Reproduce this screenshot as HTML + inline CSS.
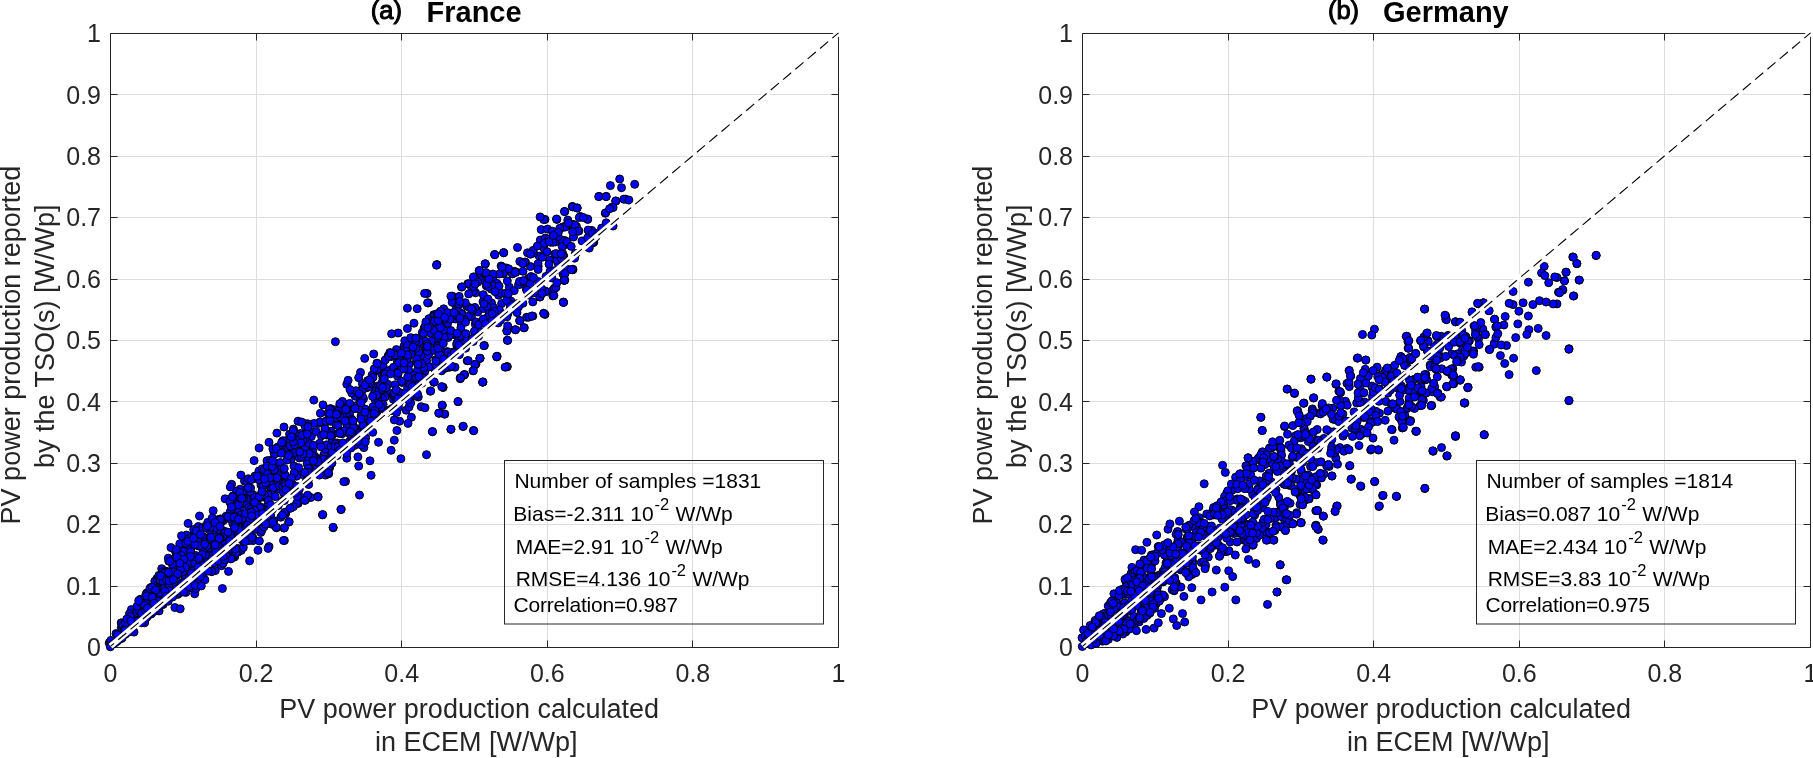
<!DOCTYPE html>
<html><head><meta charset="utf-8"><style>
html,body{margin:0;padding:0;background:#fff;width:1813px;height:758px;overflow:hidden}
svg{display:block;will-change:transform}
.mk circle{fill:#0000ff;stroke:#000;stroke-width:1}
text{font-family:"Liberation Sans",sans-serif;fill:#262626}
.tk{font-size:25px}
.lb{font-size:27px}
.lg{font-size:21px;fill:#000}
.tl1{font-size:25.5px;fill:#000;stroke:#000;stroke-width:1px}
.tl2{font-size:29px;font-weight:bold;fill:#000}
</style></head><body>
<svg width="1813" height="758" viewBox="0 0 1813 758">
<rect width="1813" height="758" fill="#fff"/>
<path d="M256.5 33.5V647.5 M401.5 33.5V647.5 M547.5 33.5V647.5 M692.5 33.5V647.5 M110.5 586.5H838.5 M110.5 524.5H838.5 M110.5 463.5H838.5 M110.5 401.5H838.5 M110.5 340.5H838.5 M110.5 279.5H838.5 M110.5 217.5H838.5 M110.5 156.5H838.5 M110.5 94.5H838.5" stroke="#dedede" stroke-width="1" fill="none"/>
<path d="M110.5 647.5V33.5H838.5V647.5Z M110.5 647.5v-7M110.5 33.5v7 M256.5 647.5v-7M256.5 33.5v7 M401.5 647.5v-7M401.5 33.5v7 M547.5 647.5v-7M547.5 33.5v7 M692.5 647.5v-7M692.5 33.5v7 M838.5 647.5v-7M838.5 33.5v7 M110.5 647.5h7M838.5 647.5h-7 M110.5 586.5h7M838.5 586.5h-7 M110.5 524.5h7M838.5 524.5h-7 M110.5 463.5h7M838.5 463.5h-7 M110.5 401.5h7M838.5 401.5h-7 M110.5 340.5h7M838.5 340.5h-7 M110.5 279.5h7M838.5 279.5h-7 M110.5 217.5h7M838.5 217.5h-7 M110.5 156.5h7M838.5 156.5h-7 M110.5 94.5h7M838.5 94.5h-7 M110.5 33.5h7M838.5 33.5h-7" stroke="#262626" stroke-width="1" fill="none"/>
<g class="mk">
<circle cx="488.9" cy="311.6" r="4"/>
<circle cx="177.7" cy="594.4" r="4"/>
<circle cx="268.6" cy="474.0" r="4"/>
<circle cx="332.6" cy="415.1" r="4"/>
<circle cx="200.5" cy="557.1" r="4"/>
<circle cx="383.2" cy="366.3" r="4"/>
<circle cx="381.6" cy="373.8" r="4"/>
<circle cx="131.4" cy="609.6" r="4"/>
<circle cx="554.7" cy="254.2" r="4"/>
<circle cx="120.8" cy="638.7" r="4"/>
<circle cx="564.8" cy="280.1" r="4"/>
<circle cx="247.6" cy="534.6" r="4"/>
<circle cx="311.6" cy="451.1" r="4"/>
<circle cx="286.4" cy="453.8" r="4"/>
<circle cx="498.6" cy="295.2" r="4"/>
<circle cx="181.5" cy="557.3" r="4"/>
<circle cx="159.1" cy="610.9" r="4"/>
<circle cx="575.4" cy="253.6" r="4"/>
<circle cx="195.7" cy="555.5" r="4"/>
<circle cx="348.0" cy="406.9" r="4"/>
<circle cx="261.9" cy="507.5" r="4"/>
<circle cx="360.5" cy="397.7" r="4"/>
<circle cx="323.4" cy="466.2" r="4"/>
<circle cx="186.9" cy="584.9" r="4"/>
<circle cx="224.4" cy="560.5" r="4"/>
<circle cx="458.0" cy="401.7" r="4"/>
<circle cx="144.7" cy="610.9" r="4"/>
<circle cx="325.5" cy="475.1" r="4"/>
<circle cx="355.2" cy="396.2" r="4"/>
<circle cx="396.6" cy="402.5" r="4"/>
<circle cx="419.9" cy="339.2" r="4"/>
<circle cx="371.1" cy="475.3" r="4"/>
<circle cx="475.3" cy="324.1" r="4"/>
<circle cx="541.2" cy="229.6" r="4"/>
<circle cx="259.4" cy="516.8" r="4"/>
<circle cx="349.7" cy="403.4" r="4"/>
<circle cx="306.1" cy="432.8" r="4"/>
<circle cx="615.9" cy="201.1" r="4"/>
<circle cx="447.4" cy="351.6" r="4"/>
<circle cx="213.6" cy="562.9" r="4"/>
<circle cx="373.7" cy="354.0" r="4"/>
<circle cx="364.2" cy="409.3" r="4"/>
<circle cx="138.7" cy="605.7" r="4"/>
<circle cx="409.4" cy="399.4" r="4"/>
<circle cx="181.8" cy="556.2" r="4"/>
<circle cx="563.1" cy="274.2" r="4"/>
<circle cx="200.8" cy="563.6" r="4"/>
<circle cx="248.1" cy="501.5" r="4"/>
<circle cx="146.2" cy="602.7" r="4"/>
<circle cx="188.1" cy="523.4" r="4"/>
<circle cx="396.9" cy="430.5" r="4"/>
<circle cx="611.9" cy="207.2" r="4"/>
<circle cx="258.8" cy="477.3" r="4"/>
<circle cx="186.1" cy="567.4" r="4"/>
<circle cx="389.9" cy="409.9" r="4"/>
<circle cx="435.8" cy="359.7" r="4"/>
<circle cx="419.0" cy="373.0" r="4"/>
<circle cx="252.9" cy="494.5" r="4"/>
<circle cx="519.6" cy="320.6" r="4"/>
<circle cx="526.6" cy="317.3" r="4"/>
<circle cx="254.9" cy="478.3" r="4"/>
<circle cx="388.2" cy="355.8" r="4"/>
<circle cx="444.2" cy="330.6" r="4"/>
<circle cx="301.0" cy="438.0" r="4"/>
<circle cx="442.5" cy="351.3" r="4"/>
<circle cx="538.4" cy="281.5" r="4"/>
<circle cx="244.0" cy="495.0" r="4"/>
<circle cx="364.7" cy="358.4" r="4"/>
<circle cx="593.8" cy="242.3" r="4"/>
<circle cx="439.0" cy="355.1" r="4"/>
<circle cx="433.8" cy="382.1" r="4"/>
<circle cx="199.5" cy="516.0" r="4"/>
<circle cx="186.8" cy="585.2" r="4"/>
<circle cx="157.8" cy="604.9" r="4"/>
<circle cx="185.8" cy="592.4" r="4"/>
<circle cx="498.2" cy="322.9" r="4"/>
<circle cx="226.1" cy="516.2" r="4"/>
<circle cx="449.7" cy="367.2" r="4"/>
<circle cx="283.4" cy="448.0" r="4"/>
<circle cx="503.6" cy="252.6" r="4"/>
<circle cx="220.3" cy="563.2" r="4"/>
<circle cx="218.8" cy="554.5" r="4"/>
<circle cx="300.1" cy="451.0" r="4"/>
<circle cx="507.3" cy="366.6" r="4"/>
<circle cx="213.1" cy="546.6" r="4"/>
<circle cx="384.0" cy="393.5" r="4"/>
<circle cx="421.2" cy="406.7" r="4"/>
<circle cx="337.0" cy="443.0" r="4"/>
<circle cx="261.1" cy="485.1" r="4"/>
<circle cx="430.2" cy="333.0" r="4"/>
<circle cx="322.5" cy="514.9" r="4"/>
<circle cx="221.5" cy="565.7" r="4"/>
<circle cx="432.5" cy="431.8" r="4"/>
<circle cx="404.3" cy="356.5" r="4"/>
<circle cx="479.9" cy="274.7" r="4"/>
<circle cx="197.0" cy="574.4" r="4"/>
<circle cx="353.9" cy="435.8" r="4"/>
<circle cx="277.2" cy="463.6" r="4"/>
<circle cx="382.5" cy="385.4" r="4"/>
<circle cx="360.5" cy="372.4" r="4"/>
<circle cx="337.8" cy="410.2" r="4"/>
<circle cx="509.3" cy="287.2" r="4"/>
<circle cx="300.2" cy="433.6" r="4"/>
<circle cx="291.1" cy="459.3" r="4"/>
<circle cx="573.1" cy="224.6" r="4"/>
<circle cx="356.8" cy="405.6" r="4"/>
<circle cx="246.9" cy="504.9" r="4"/>
<circle cx="491.2" cy="289.1" r="4"/>
<circle cx="332.6" cy="414.2" r="4"/>
<circle cx="205.5" cy="560.6" r="4"/>
<circle cx="556.9" cy="219.4" r="4"/>
<circle cx="362.0" cy="389.7" r="4"/>
<circle cx="301.7" cy="497.5" r="4"/>
<circle cx="475.6" cy="292.8" r="4"/>
<circle cx="473.0" cy="370.8" r="4"/>
<circle cx="257.9" cy="497.5" r="4"/>
<circle cx="306.6" cy="441.4" r="4"/>
<circle cx="437.3" cy="317.8" r="4"/>
<circle cx="501.6" cy="303.6" r="4"/>
<circle cx="435.7" cy="338.2" r="4"/>
<circle cx="496.8" cy="356.9" r="4"/>
<circle cx="477.8" cy="312.0" r="4"/>
<circle cx="218.5" cy="547.7" r="4"/>
<circle cx="285.7" cy="442.7" r="4"/>
<circle cx="256.1" cy="508.6" r="4"/>
<circle cx="194.8" cy="588.5" r="4"/>
<circle cx="252.7" cy="537.3" r="4"/>
<circle cx="398.2" cy="333.0" r="4"/>
<circle cx="421.0" cy="339.2" r="4"/>
<circle cx="515.2" cy="329.7" r="4"/>
<circle cx="530.4" cy="266.5" r="4"/>
<circle cx="151.1" cy="614.1" r="4"/>
<circle cx="566.1" cy="270.8" r="4"/>
<circle cx="298.0" cy="421.2" r="4"/>
<circle cx="383.3" cy="408.8" r="4"/>
<circle cx="329.6" cy="467.8" r="4"/>
<circle cx="549.6" cy="260.2" r="4"/>
<circle cx="309.4" cy="456.7" r="4"/>
<circle cx="238.1" cy="552.0" r="4"/>
<circle cx="473.4" cy="430.5" r="4"/>
<circle cx="340.2" cy="404.1" r="4"/>
<circle cx="545.0" cy="219.4" r="4"/>
<circle cx="462.9" cy="426.5" r="4"/>
<circle cx="281.9" cy="487.5" r="4"/>
<circle cx="238.8" cy="523.9" r="4"/>
<circle cx="165.8" cy="573.5" r="4"/>
<circle cx="275.2" cy="482.3" r="4"/>
<circle cx="185.5" cy="541.0" r="4"/>
<circle cx="255.3" cy="522.7" r="4"/>
<circle cx="377.2" cy="411.5" r="4"/>
<circle cx="157.7" cy="599.5" r="4"/>
<circle cx="284.0" cy="427.0" r="4"/>
<circle cx="354.3" cy="408.6" r="4"/>
<circle cx="506.1" cy="267.9" r="4"/>
<circle cx="567.4" cy="224.4" r="4"/>
<circle cx="424.1" cy="328.3" r="4"/>
<circle cx="432.4" cy="431.5" r="4"/>
<circle cx="384.3" cy="373.0" r="4"/>
<circle cx="241.2" cy="550.4" r="4"/>
<circle cx="443.1" cy="387.5" r="4"/>
<circle cx="228.6" cy="535.7" r="4"/>
<circle cx="419.7" cy="374.6" r="4"/>
<circle cx="309.0" cy="465.3" r="4"/>
<circle cx="158.3" cy="595.9" r="4"/>
<circle cx="314.6" cy="457.3" r="4"/>
<circle cx="440.8" cy="343.2" r="4"/>
<circle cx="237.7" cy="525.0" r="4"/>
<circle cx="223.0" cy="563.4" r="4"/>
<circle cx="248.8" cy="507.4" r="4"/>
<circle cx="507.3" cy="281.0" r="4"/>
<circle cx="251.1" cy="498.3" r="4"/>
<circle cx="420.6" cy="374.0" r="4"/>
<circle cx="223.4" cy="520.5" r="4"/>
<circle cx="330.5" cy="454.9" r="4"/>
<circle cx="402.2" cy="382.5" r="4"/>
<circle cx="441.6" cy="340.5" r="4"/>
<circle cx="418.3" cy="396.9" r="4"/>
<circle cx="351.3" cy="444.4" r="4"/>
<circle cx="423.2" cy="355.8" r="4"/>
<circle cx="154.8" cy="581.2" r="4"/>
<circle cx="428.9" cy="318.7" r="4"/>
<circle cx="299.3" cy="457.9" r="4"/>
<circle cx="324.0" cy="454.5" r="4"/>
<circle cx="152.2" cy="611.9" r="4"/>
<circle cx="316.1" cy="469.7" r="4"/>
<circle cx="341.1" cy="509.4" r="4"/>
<circle cx="182.1" cy="570.6" r="4"/>
<circle cx="514.2" cy="290.6" r="4"/>
<circle cx="455.6" cy="334.9" r="4"/>
<circle cx="234.7" cy="556.9" r="4"/>
<circle cx="134.0" cy="632.1" r="4"/>
<circle cx="528.8" cy="317.2" r="4"/>
<circle cx="199.0" cy="538.9" r="4"/>
<circle cx="334.6" cy="452.5" r="4"/>
<circle cx="497.5" cy="317.7" r="4"/>
<circle cx="519.8" cy="261.4" r="4"/>
<circle cx="157.7" cy="596.0" r="4"/>
<circle cx="198.4" cy="545.9" r="4"/>
<circle cx="540.3" cy="240.1" r="4"/>
<circle cx="141.0" cy="607.8" r="4"/>
<circle cx="184.8" cy="576.3" r="4"/>
<circle cx="431.1" cy="325.8" r="4"/>
<circle cx="245.5" cy="492.4" r="4"/>
<circle cx="324.3" cy="459.6" r="4"/>
<circle cx="220.1" cy="539.6" r="4"/>
<circle cx="461.4" cy="323.8" r="4"/>
<circle cx="417.9" cy="363.8" r="4"/>
<circle cx="532.8" cy="316.1" r="4"/>
<circle cx="238.0" cy="548.6" r="4"/>
<circle cx="179.8" cy="592.8" r="4"/>
<circle cx="146.8" cy="592.9" r="4"/>
<circle cx="354.5" cy="445.4" r="4"/>
<circle cx="482.3" cy="279.5" r="4"/>
<circle cx="191.0" cy="548.6" r="4"/>
<circle cx="325.4" cy="449.0" r="4"/>
<circle cx="406.2" cy="410.2" r="4"/>
<circle cx="442.7" cy="321.8" r="4"/>
<circle cx="126.7" cy="627.9" r="4"/>
<circle cx="497.1" cy="356.2" r="4"/>
<circle cx="324.2" cy="434.3" r="4"/>
<circle cx="466.0" cy="334.4" r="4"/>
<circle cx="267.2" cy="508.8" r="4"/>
<circle cx="333.2" cy="417.0" r="4"/>
<circle cx="485.3" cy="263.9" r="4"/>
<circle cx="416.0" cy="396.0" r="4"/>
<circle cx="575.8" cy="253.6" r="4"/>
<circle cx="264.3" cy="474.7" r="4"/>
<circle cx="253.4" cy="497.2" r="4"/>
<circle cx="319.6" cy="443.3" r="4"/>
<circle cx="475.4" cy="334.5" r="4"/>
<circle cx="389.3" cy="356.6" r="4"/>
<circle cx="568.7" cy="222.8" r="4"/>
<circle cx="276.5" cy="527.8" r="4"/>
<circle cx="423.2" cy="374.7" r="4"/>
<circle cx="170.5" cy="575.0" r="4"/>
<circle cx="318.4" cy="423.4" r="4"/>
<circle cx="284.0" cy="528.1" r="4"/>
<circle cx="116.0" cy="633.6" r="4"/>
<circle cx="562.2" cy="270.8" r="4"/>
<circle cx="421.7" cy="338.0" r="4"/>
<circle cx="444.6" cy="319.6" r="4"/>
<circle cx="480.0" cy="358.4" r="4"/>
<circle cx="495.9" cy="316.6" r="4"/>
<circle cx="192.1" cy="545.5" r="4"/>
<circle cx="463.3" cy="426.3" r="4"/>
<circle cx="436.5" cy="346.6" r="4"/>
<circle cx="439.3" cy="349.8" r="4"/>
<circle cx="397.4" cy="361.9" r="4"/>
<circle cx="239.5" cy="508.7" r="4"/>
<circle cx="510.9" cy="301.1" r="4"/>
<circle cx="314.8" cy="456.3" r="4"/>
<circle cx="530.1" cy="278.7" r="4"/>
<circle cx="310.8" cy="497.5" r="4"/>
<circle cx="394.8" cy="356.2" r="4"/>
<circle cx="485.2" cy="263.7" r="4"/>
<circle cx="204.1" cy="561.6" r="4"/>
<circle cx="553.4" cy="233.5" r="4"/>
<circle cx="259.6" cy="513.9" r="4"/>
<circle cx="434.8" cy="369.1" r="4"/>
<circle cx="597.6" cy="233.2" r="4"/>
<circle cx="246.8" cy="531.3" r="4"/>
<circle cx="239.7" cy="515.5" r="4"/>
<circle cx="427.5" cy="327.0" r="4"/>
<circle cx="503.7" cy="273.3" r="4"/>
<circle cx="554.3" cy="288.3" r="4"/>
<circle cx="184.4" cy="574.2" r="4"/>
<circle cx="399.2" cy="359.1" r="4"/>
<circle cx="458.1" cy="340.9" r="4"/>
<circle cx="201.6" cy="539.0" r="4"/>
<circle cx="216.5" cy="546.4" r="4"/>
<circle cx="385.2" cy="360.0" r="4"/>
<circle cx="176.2" cy="569.6" r="4"/>
<circle cx="156.8" cy="578.6" r="4"/>
<circle cx="285.5" cy="513.9" r="4"/>
<circle cx="173.5" cy="593.1" r="4"/>
<circle cx="324.2" cy="463.5" r="4"/>
<circle cx="284.6" cy="477.6" r="4"/>
<circle cx="328.2" cy="470.0" r="4"/>
<circle cx="236.7" cy="499.1" r="4"/>
<circle cx="475.1" cy="364.8" r="4"/>
<circle cx="184.1" cy="582.5" r="4"/>
<circle cx="269.0" cy="546.6" r="4"/>
<circle cx="550.5" cy="242.2" r="4"/>
<circle cx="238.0" cy="512.6" r="4"/>
<circle cx="213.2" cy="523.1" r="4"/>
<circle cx="434.1" cy="321.6" r="4"/>
<circle cx="351.7" cy="422.1" r="4"/>
<circle cx="471.8" cy="288.2" r="4"/>
<circle cx="548.7" cy="275.4" r="4"/>
<circle cx="205.4" cy="546.2" r="4"/>
<circle cx="141.2" cy="606.0" r="4"/>
<circle cx="553.0" cy="295.4" r="4"/>
<circle cx="217.3" cy="523.8" r="4"/>
<circle cx="177.0" cy="567.9" r="4"/>
<circle cx="249.6" cy="560.8" r="4"/>
<circle cx="127.7" cy="627.8" r="4"/>
<circle cx="241.6" cy="514.7" r="4"/>
<circle cx="204.5" cy="548.6" r="4"/>
<circle cx="268.7" cy="494.2" r="4"/>
<circle cx="480.0" cy="358.3" r="4"/>
<circle cx="560.1" cy="258.1" r="4"/>
<circle cx="375.7" cy="394.9" r="4"/>
<circle cx="460.2" cy="378.7" r="4"/>
<circle cx="454.5" cy="303.0" r="4"/>
<circle cx="145.9" cy="594.5" r="4"/>
<circle cx="179.3" cy="569.3" r="4"/>
<circle cx="473.3" cy="291.4" r="4"/>
<circle cx="562.2" cy="252.7" r="4"/>
<circle cx="189.7" cy="536.7" r="4"/>
<circle cx="440.4" cy="344.9" r="4"/>
<circle cx="210.1" cy="547.7" r="4"/>
<circle cx="563.1" cy="226.9" r="4"/>
<circle cx="236.2" cy="499.5" r="4"/>
<circle cx="526.1" cy="288.5" r="4"/>
<circle cx="391.2" cy="369.7" r="4"/>
<circle cx="457.4" cy="316.6" r="4"/>
<circle cx="384.4" cy="396.7" r="4"/>
<circle cx="388.1" cy="384.4" r="4"/>
<circle cx="221.2" cy="521.5" r="4"/>
<circle cx="382.9" cy="378.8" r="4"/>
<circle cx="363.9" cy="447.6" r="4"/>
<circle cx="258.2" cy="512.2" r="4"/>
<circle cx="161.7" cy="591.2" r="4"/>
<circle cx="215.3" cy="570.6" r="4"/>
<circle cx="426.5" cy="454.7" r="4"/>
<circle cx="441.6" cy="370.8" r="4"/>
<circle cx="510.0" cy="309.2" r="4"/>
<circle cx="395.1" cy="396.9" r="4"/>
<circle cx="406.3" cy="396.8" r="4"/>
<circle cx="366.6" cy="387.8" r="4"/>
<circle cx="563.5" cy="302.2" r="4"/>
<circle cx="270.6" cy="515.1" r="4"/>
<circle cx="540.1" cy="296.9" r="4"/>
<circle cx="476.0" cy="364.1" r="4"/>
<circle cx="471.4" cy="316.9" r="4"/>
<circle cx="127.2" cy="626.8" r="4"/>
<circle cx="496.7" cy="356.6" r="4"/>
<circle cx="132.9" cy="621.4" r="4"/>
<circle cx="361.0" cy="416.1" r="4"/>
<circle cx="512.6" cy="273.8" r="4"/>
<circle cx="280.3" cy="462.5" r="4"/>
<circle cx="198.3" cy="526.5" r="4"/>
<circle cx="234.7" cy="528.4" r="4"/>
<circle cx="386.3" cy="412.8" r="4"/>
<circle cx="260.8" cy="532.4" r="4"/>
<circle cx="601.7" cy="228.1" r="4"/>
<circle cx="550.1" cy="271.3" r="4"/>
<circle cx="268.3" cy="471.0" r="4"/>
<circle cx="217.7" cy="543.7" r="4"/>
<circle cx="313.1" cy="432.2" r="4"/>
<circle cx="468.5" cy="316.2" r="4"/>
<circle cx="396.3" cy="394.5" r="4"/>
<circle cx="599.1" cy="196.4" r="4"/>
<circle cx="176.3" cy="553.0" r="4"/>
<circle cx="483.0" cy="381.9" r="4"/>
<circle cx="243.3" cy="547.5" r="4"/>
<circle cx="349.2" cy="416.0" r="4"/>
<circle cx="545.1" cy="290.9" r="4"/>
<circle cx="426.5" cy="361.0" r="4"/>
<circle cx="355.5" cy="441.5" r="4"/>
<circle cx="587.6" cy="219.0" r="4"/>
<circle cx="344.3" cy="415.4" r="4"/>
<circle cx="254.5" cy="497.1" r="4"/>
<circle cx="203.2" cy="536.7" r="4"/>
<circle cx="161.7" cy="568.7" r="4"/>
<circle cx="292.2" cy="454.7" r="4"/>
<circle cx="234.3" cy="548.2" r="4"/>
<circle cx="543.7" cy="313.3" r="4"/>
<circle cx="162.2" cy="583.5" r="4"/>
<circle cx="256.1" cy="529.3" r="4"/>
<circle cx="376.8" cy="386.2" r="4"/>
<circle cx="520.0" cy="320.7" r="4"/>
<circle cx="316.5" cy="465.5" r="4"/>
<circle cx="288.8" cy="442.3" r="4"/>
<circle cx="545.0" cy="291.9" r="4"/>
<circle cx="527.5" cy="252.8" r="4"/>
<circle cx="375.5" cy="400.8" r="4"/>
<circle cx="481.6" cy="331.7" r="4"/>
<circle cx="390.5" cy="393.3" r="4"/>
<circle cx="275.0" cy="486.4" r="4"/>
<circle cx="358.7" cy="466.1" r="4"/>
<circle cx="370.0" cy="460.8" r="4"/>
<circle cx="110.7" cy="643.2" r="4"/>
<circle cx="461.9" cy="347.7" r="4"/>
<circle cx="265.1" cy="497.4" r="4"/>
<circle cx="410.4" cy="386.2" r="4"/>
<circle cx="525.5" cy="262.3" r="4"/>
<circle cx="562.9" cy="227.3" r="4"/>
<circle cx="220.6" cy="518.9" r="4"/>
<circle cx="447.7" cy="323.2" r="4"/>
<circle cx="411.4" cy="417.3" r="4"/>
<circle cx="454.0" cy="334.0" r="4"/>
<circle cx="473.8" cy="276.9" r="4"/>
<circle cx="202.7" cy="527.7" r="4"/>
<circle cx="425.1" cy="370.4" r="4"/>
<circle cx="528.6" cy="279.4" r="4"/>
<circle cx="464.6" cy="374.5" r="4"/>
<circle cx="349.6" cy="441.2" r="4"/>
<circle cx="237.8" cy="492.7" r="4"/>
<circle cx="207.3" cy="528.4" r="4"/>
<circle cx="397.5" cy="376.1" r="4"/>
<circle cx="285.9" cy="477.3" r="4"/>
<circle cx="328.0" cy="413.1" r="4"/>
<circle cx="194.5" cy="531.5" r="4"/>
<circle cx="443.7" cy="308.8" r="4"/>
<circle cx="491.5" cy="302.9" r="4"/>
<circle cx="365.2" cy="422.5" r="4"/>
<circle cx="417.2" cy="308.7" r="4"/>
<circle cx="425.0" cy="407.8" r="4"/>
<circle cx="359.7" cy="429.8" r="4"/>
<circle cx="281.3" cy="486.1" r="4"/>
<circle cx="156.2" cy="590.0" r="4"/>
<circle cx="305.5" cy="500.1" r="4"/>
<circle cx="159.6" cy="585.4" r="4"/>
<circle cx="345.5" cy="481.4" r="4"/>
<circle cx="150.9" cy="595.2" r="4"/>
<circle cx="271.6" cy="494.7" r="4"/>
<circle cx="206.3" cy="525.3" r="4"/>
<circle cx="396.9" cy="410.4" r="4"/>
<circle cx="461.8" cy="313.5" r="4"/>
<circle cx="423.7" cy="345.0" r="4"/>
<circle cx="277.7" cy="447.9" r="4"/>
<circle cx="499.3" cy="309.7" r="4"/>
<circle cx="277.9" cy="446.9" r="4"/>
<circle cx="203.6" cy="560.7" r="4"/>
<circle cx="375.8" cy="370.7" r="4"/>
<circle cx="350.9" cy="428.3" r="4"/>
<circle cx="198.8" cy="561.7" r="4"/>
<circle cx="391.2" cy="356.5" r="4"/>
<circle cx="375.7" cy="390.6" r="4"/>
<circle cx="305.3" cy="440.1" r="4"/>
<circle cx="436.7" cy="328.7" r="4"/>
<circle cx="288.8" cy="442.7" r="4"/>
<circle cx="552.9" cy="295.9" r="4"/>
<circle cx="349.6" cy="413.2" r="4"/>
<circle cx="448.0" cy="352.3" r="4"/>
<circle cx="402.2" cy="363.3" r="4"/>
<circle cx="580.3" cy="216.4" r="4"/>
<circle cx="374.0" cy="416.3" r="4"/>
<circle cx="483.4" cy="308.6" r="4"/>
<circle cx="460.9" cy="327.8" r="4"/>
<circle cx="277.9" cy="471.3" r="4"/>
<circle cx="150.5" cy="595.3" r="4"/>
<circle cx="228.3" cy="518.2" r="4"/>
<circle cx="166.5" cy="579.4" r="4"/>
<circle cx="343.8" cy="481.7" r="4"/>
<circle cx="392.2" cy="408.5" r="4"/>
<circle cx="479.9" cy="358.2" r="4"/>
<circle cx="151.5" cy="588.5" r="4"/>
<circle cx="566.6" cy="225.7" r="4"/>
<circle cx="376.9" cy="363.2" r="4"/>
<circle cx="532.8" cy="301.9" r="4"/>
<circle cx="140.6" cy="602.5" r="4"/>
<circle cx="181.8" cy="563.6" r="4"/>
<circle cx="231.6" cy="484.3" r="4"/>
<circle cx="249.0" cy="535.6" r="4"/>
<circle cx="362.5" cy="399.3" r="4"/>
<circle cx="300.4" cy="453.5" r="4"/>
<circle cx="244.5" cy="481.1" r="4"/>
<circle cx="326.8" cy="435.1" r="4"/>
<circle cx="205.4" cy="540.7" r="4"/>
<circle cx="237.4" cy="551.7" r="4"/>
<circle cx="276.4" cy="489.5" r="4"/>
<circle cx="241.6" cy="539.7" r="4"/>
<circle cx="346.8" cy="384.3" r="4"/>
<circle cx="512.2" cy="273.6" r="4"/>
<circle cx="145.0" cy="599.5" r="4"/>
<circle cx="539.2" cy="256.1" r="4"/>
<circle cx="200.5" cy="556.9" r="4"/>
<circle cx="183.0" cy="564.6" r="4"/>
<circle cx="330.8" cy="431.3" r="4"/>
<circle cx="464.1" cy="319.5" r="4"/>
<circle cx="260.6" cy="508.8" r="4"/>
<circle cx="176.9" cy="555.5" r="4"/>
<circle cx="337.2" cy="419.1" r="4"/>
<circle cx="216.1" cy="550.1" r="4"/>
<circle cx="341.0" cy="509.6" r="4"/>
<circle cx="268.9" cy="471.6" r="4"/>
<circle cx="494.5" cy="254.6" r="4"/>
<circle cx="293.5" cy="442.0" r="4"/>
<circle cx="109.2" cy="643.1" r="4"/>
<circle cx="137.2" cy="608.4" r="4"/>
<circle cx="189.4" cy="575.5" r="4"/>
<circle cx="172.6" cy="597.0" r="4"/>
<circle cx="365.2" cy="427.6" r="4"/>
<circle cx="272.8" cy="480.3" r="4"/>
<circle cx="429.9" cy="326.1" r="4"/>
<circle cx="192.1" cy="558.7" r="4"/>
<circle cx="476.1" cy="322.0" r="4"/>
<circle cx="166.6" cy="581.4" r="4"/>
<circle cx="370.3" cy="382.5" r="4"/>
<circle cx="151.3" cy="598.4" r="4"/>
<circle cx="132.5" cy="627.3" r="4"/>
<circle cx="377.1" cy="369.5" r="4"/>
<circle cx="121.2" cy="622.9" r="4"/>
<circle cx="355.9" cy="434.2" r="4"/>
<circle cx="393.6" cy="367.2" r="4"/>
<circle cx="196.0" cy="572.5" r="4"/>
<circle cx="295.3" cy="475.3" r="4"/>
<circle cx="355.0" cy="428.1" r="4"/>
<circle cx="290.7" cy="450.0" r="4"/>
<circle cx="411.9" cy="391.7" r="4"/>
<circle cx="362.5" cy="388.5" r="4"/>
<circle cx="543.8" cy="219.6" r="4"/>
<circle cx="420.9" cy="368.6" r="4"/>
<circle cx="493.1" cy="277.3" r="4"/>
<circle cx="326.6" cy="459.6" r="4"/>
<circle cx="253.8" cy="505.0" r="4"/>
<circle cx="158.6" cy="577.2" r="4"/>
<circle cx="180.9" cy="584.6" r="4"/>
<circle cx="125.3" cy="634.3" r="4"/>
<circle cx="198.5" cy="542.2" r="4"/>
<circle cx="222.6" cy="541.7" r="4"/>
<circle cx="129.7" cy="625.8" r="4"/>
<circle cx="232.8" cy="557.5" r="4"/>
<circle cx="308.7" cy="484.5" r="4"/>
<circle cx="207.6" cy="555.3" r="4"/>
<circle cx="269.0" cy="442.3" r="4"/>
<circle cx="364.1" cy="427.6" r="4"/>
<circle cx="464.0" cy="340.0" r="4"/>
<circle cx="389.8" cy="352.6" r="4"/>
<circle cx="288.7" cy="522.0" r="4"/>
<circle cx="366.2" cy="410.5" r="4"/>
<circle cx="414.4" cy="394.0" r="4"/>
<circle cx="259.2" cy="479.9" r="4"/>
<circle cx="239.4" cy="493.8" r="4"/>
<circle cx="211.6" cy="555.9" r="4"/>
<circle cx="335.8" cy="446.9" r="4"/>
<circle cx="393.5" cy="399.4" r="4"/>
<circle cx="335.3" cy="409.8" r="4"/>
<circle cx="385.1" cy="396.9" r="4"/>
<circle cx="183.7" cy="545.5" r="4"/>
<circle cx="309.1" cy="448.8" r="4"/>
<circle cx="186.5" cy="535.1" r="4"/>
<circle cx="456.9" cy="345.5" r="4"/>
<circle cx="171.0" cy="589.9" r="4"/>
<circle cx="324.9" cy="423.2" r="4"/>
<circle cx="219.0" cy="519.3" r="4"/>
<circle cx="296.8" cy="472.9" r="4"/>
<circle cx="284.2" cy="499.0" r="4"/>
<circle cx="321.2" cy="458.5" r="4"/>
<circle cx="202.9" cy="566.0" r="4"/>
<circle cx="214.2" cy="530.0" r="4"/>
<circle cx="572.8" cy="269.8" r="4"/>
<circle cx="564.1" cy="280.3" r="4"/>
<circle cx="249.1" cy="532.4" r="4"/>
<circle cx="497.0" cy="283.4" r="4"/>
<circle cx="533.6" cy="253.1" r="4"/>
<circle cx="485.2" cy="318.9" r="4"/>
<circle cx="232.8" cy="523.6" r="4"/>
<circle cx="293.6" cy="452.7" r="4"/>
<circle cx="194.3" cy="583.3" r="4"/>
<circle cx="175.5" cy="550.5" r="4"/>
<circle cx="163.9" cy="592.0" r="4"/>
<circle cx="507.4" cy="294.4" r="4"/>
<circle cx="428.5" cy="302.9" r="4"/>
<circle cx="518.5" cy="284.8" r="4"/>
<circle cx="228.6" cy="551.0" r="4"/>
<circle cx="326.3" cy="430.7" r="4"/>
<circle cx="326.7" cy="420.6" r="4"/>
<circle cx="533.0" cy="250.4" r="4"/>
<circle cx="192.6" cy="568.5" r="4"/>
<circle cx="419.0" cy="372.3" r="4"/>
<circle cx="360.1" cy="401.2" r="4"/>
<circle cx="486.1" cy="276.7" r="4"/>
<circle cx="335.4" cy="341.7" r="4"/>
<circle cx="186.9" cy="539.1" r="4"/>
<circle cx="452.3" cy="296.1" r="4"/>
<circle cx="460.3" cy="377.7" r="4"/>
<circle cx="223.8" cy="539.0" r="4"/>
<circle cx="373.9" cy="394.2" r="4"/>
<circle cx="386.2" cy="387.6" r="4"/>
<circle cx="320.0" cy="421.9" r="4"/>
<circle cx="311.3" cy="436.6" r="4"/>
<circle cx="158.1" cy="588.0" r="4"/>
<circle cx="165.4" cy="571.0" r="4"/>
<circle cx="621.5" cy="187.7" r="4"/>
<circle cx="161.2" cy="578.6" r="4"/>
<circle cx="382.5" cy="398.5" r="4"/>
<circle cx="197.6" cy="568.5" r="4"/>
<circle cx="579.3" cy="217.5" r="4"/>
<circle cx="478.7" cy="324.6" r="4"/>
<circle cx="228.0" cy="549.8" r="4"/>
<circle cx="140.0" cy="599.5" r="4"/>
<circle cx="367.9" cy="386.6" r="4"/>
<circle cx="467.7" cy="283.8" r="4"/>
<circle cx="396.4" cy="349.6" r="4"/>
<circle cx="330.8" cy="421.3" r="4"/>
<circle cx="437.2" cy="346.6" r="4"/>
<circle cx="233.4" cy="534.8" r="4"/>
<circle cx="176.9" cy="581.6" r="4"/>
<circle cx="139.3" cy="601.7" r="4"/>
<circle cx="365.1" cy="409.1" r="4"/>
<circle cx="425.9" cy="348.7" r="4"/>
<circle cx="268.1" cy="548.4" r="4"/>
<circle cx="332.0" cy="441.6" r="4"/>
<circle cx="563.7" cy="255.9" r="4"/>
<circle cx="171.5" cy="590.8" r="4"/>
<circle cx="483.0" cy="301.7" r="4"/>
<circle cx="258.1" cy="518.2" r="4"/>
<circle cx="530.4" cy="288.6" r="4"/>
<circle cx="271.2" cy="523.9" r="4"/>
<circle cx="397.7" cy="371.9" r="4"/>
<circle cx="180.1" cy="560.6" r="4"/>
<circle cx="408.8" cy="364.2" r="4"/>
<circle cx="436.9" cy="264.5" r="4"/>
<circle cx="493.1" cy="285.6" r="4"/>
<circle cx="207.7" cy="570.3" r="4"/>
<circle cx="284.4" cy="527.8" r="4"/>
<circle cx="367.1" cy="428.6" r="4"/>
<circle cx="484.4" cy="345.5" r="4"/>
<circle cx="278.3" cy="505.5" r="4"/>
<circle cx="193.7" cy="529.5" r="4"/>
<circle cx="258.6" cy="506.1" r="4"/>
<circle cx="353.8" cy="432.2" r="4"/>
<circle cx="577.1" cy="207.9" r="4"/>
<circle cx="418.7" cy="352.5" r="4"/>
<circle cx="289.9" cy="454.3" r="4"/>
<circle cx="461.5" cy="287.1" r="4"/>
<circle cx="393.0" cy="409.5" r="4"/>
<circle cx="416.8" cy="375.8" r="4"/>
<circle cx="199.8" cy="546.2" r="4"/>
<circle cx="194.7" cy="593.8" r="4"/>
<circle cx="358.7" cy="377.7" r="4"/>
<circle cx="427.1" cy="293.5" r="4"/>
<circle cx="346.8" cy="458.2" r="4"/>
<circle cx="555.5" cy="241.9" r="4"/>
<circle cx="517.5" cy="247.5" r="4"/>
<circle cx="234.1" cy="515.5" r="4"/>
<circle cx="455.5" cy="319.0" r="4"/>
<circle cx="486.3" cy="285.8" r="4"/>
<circle cx="488.1" cy="286.7" r="4"/>
<circle cx="247.3" cy="482.9" r="4"/>
<circle cx="294.0" cy="466.1" r="4"/>
<circle cx="586.6" cy="246.4" r="4"/>
<circle cx="270.8" cy="461.4" r="4"/>
<circle cx="305.2" cy="448.2" r="4"/>
<circle cx="248.4" cy="537.5" r="4"/>
<circle cx="154.9" cy="611.0" r="4"/>
<circle cx="399.4" cy="402.2" r="4"/>
<circle cx="379.8" cy="388.3" r="4"/>
<circle cx="465.6" cy="348.2" r="4"/>
<circle cx="231.9" cy="506.4" r="4"/>
<circle cx="464.2" cy="375.1" r="4"/>
<circle cx="177.5" cy="559.6" r="4"/>
<circle cx="564.3" cy="280.3" r="4"/>
<circle cx="185.3" cy="579.0" r="4"/>
<circle cx="263.1" cy="524.5" r="4"/>
<circle cx="448.1" cy="364.1" r="4"/>
<circle cx="274.1" cy="486.6" r="4"/>
<circle cx="313.9" cy="423.5" r="4"/>
<circle cx="203.4" cy="549.0" r="4"/>
<circle cx="268.3" cy="504.1" r="4"/>
<circle cx="409.3" cy="387.7" r="4"/>
<circle cx="286.3" cy="482.1" r="4"/>
<circle cx="180.1" cy="559.5" r="4"/>
<circle cx="268.0" cy="519.8" r="4"/>
<circle cx="393.9" cy="353.5" r="4"/>
<circle cx="563.7" cy="245.4" r="4"/>
<circle cx="138.0" cy="618.3" r="4"/>
<circle cx="274.1" cy="453.3" r="4"/>
<circle cx="510.0" cy="303.6" r="4"/>
<circle cx="156.8" cy="608.5" r="4"/>
<circle cx="163.1" cy="604.5" r="4"/>
<circle cx="486.7" cy="284.1" r="4"/>
<circle cx="219.9" cy="530.7" r="4"/>
<circle cx="206.0" cy="556.0" r="4"/>
<circle cx="522.9" cy="303.3" r="4"/>
<circle cx="335.8" cy="424.3" r="4"/>
<circle cx="422.3" cy="332.6" r="4"/>
<circle cx="538.2" cy="266.3" r="4"/>
<circle cx="271.6" cy="524.1" r="4"/>
<circle cx="308.4" cy="443.0" r="4"/>
<circle cx="235.9" cy="553.2" r="4"/>
<circle cx="125.1" cy="628.3" r="4"/>
<circle cx="394.7" cy="396.7" r="4"/>
<circle cx="227.6" cy="546.9" r="4"/>
<circle cx="412.8" cy="379.2" r="4"/>
<circle cx="122.7" cy="623.8" r="4"/>
<circle cx="425.4" cy="341.2" r="4"/>
<circle cx="162.3" cy="571.9" r="4"/>
<circle cx="219.3" cy="545.7" r="4"/>
<circle cx="117.6" cy="640.9" r="4"/>
<circle cx="169.1" cy="571.8" r="4"/>
<circle cx="524.3" cy="327.7" r="4"/>
<circle cx="564.8" cy="211.5" r="4"/>
<circle cx="289.2" cy="441.3" r="4"/>
<circle cx="175.6" cy="551.5" r="4"/>
<circle cx="281.8" cy="501.2" r="4"/>
<circle cx="183.7" cy="542.3" r="4"/>
<circle cx="170.4" cy="593.7" r="4"/>
<circle cx="215.5" cy="527.7" r="4"/>
<circle cx="180.1" cy="590.8" r="4"/>
<circle cx="305.2" cy="438.6" r="4"/>
<circle cx="408.0" cy="423.4" r="4"/>
<circle cx="551.8" cy="291.1" r="4"/>
<circle cx="196.5" cy="571.7" r="4"/>
<circle cx="362.4" cy="383.7" r="4"/>
<circle cx="553.9" cy="295.5" r="4"/>
<circle cx="178.0" cy="572.7" r="4"/>
<circle cx="330.4" cy="415.2" r="4"/>
<circle cx="246.5" cy="491.4" r="4"/>
<circle cx="458.1" cy="305.7" r="4"/>
<circle cx="578.9" cy="230.9" r="4"/>
<circle cx="508.0" cy="313.4" r="4"/>
<circle cx="266.6" cy="522.7" r="4"/>
<circle cx="350.9" cy="448.0" r="4"/>
<circle cx="445.0" cy="368.0" r="4"/>
<circle cx="373.0" cy="406.7" r="4"/>
<circle cx="297.0" cy="435.7" r="4"/>
<circle cx="219.4" cy="548.6" r="4"/>
<circle cx="466.5" cy="306.0" r="4"/>
<circle cx="503.1" cy="273.5" r="4"/>
<circle cx="444.8" cy="414.1" r="4"/>
<circle cx="173.7" cy="579.6" r="4"/>
<circle cx="189.1" cy="578.0" r="4"/>
<circle cx="388.8" cy="356.4" r="4"/>
<circle cx="147.1" cy="605.3" r="4"/>
<circle cx="519.5" cy="281.5" r="4"/>
<circle cx="429.5" cy="323.0" r="4"/>
<circle cx="474.4" cy="331.2" r="4"/>
<circle cx="605.3" cy="213.2" r="4"/>
<circle cx="351.0" cy="432.2" r="4"/>
<circle cx="564.8" cy="240.5" r="4"/>
<circle cx="162.5" cy="588.7" r="4"/>
<circle cx="506.9" cy="366.8" r="4"/>
<circle cx="272.2" cy="493.4" r="4"/>
<circle cx="110.4" cy="641.6" r="4"/>
<circle cx="168.6" cy="573.1" r="4"/>
<circle cx="477.8" cy="282.1" r="4"/>
<circle cx="176.1" cy="566.9" r="4"/>
<circle cx="501.0" cy="293.3" r="4"/>
<circle cx="433.7" cy="314.7" r="4"/>
<circle cx="515.6" cy="329.8" r="4"/>
<circle cx="339.4" cy="409.4" r="4"/>
<circle cx="615.7" cy="200.9" r="4"/>
<circle cx="142.6" cy="614.4" r="4"/>
<circle cx="322.1" cy="459.8" r="4"/>
<circle cx="272.5" cy="509.2" r="4"/>
<circle cx="207.6" cy="562.2" r="4"/>
<circle cx="292.4" cy="491.8" r="4"/>
<circle cx="355.0" cy="439.2" r="4"/>
<circle cx="152.3" cy="590.3" r="4"/>
<circle cx="326.5" cy="444.8" r="4"/>
<circle cx="588.5" cy="230.7" r="4"/>
<circle cx="121.3" cy="627.5" r="4"/>
<circle cx="254.9" cy="476.1" r="4"/>
<circle cx="180.0" cy="557.3" r="4"/>
<circle cx="218.7" cy="545.7" r="4"/>
<circle cx="238.4" cy="520.6" r="4"/>
<circle cx="284.2" cy="450.6" r="4"/>
<circle cx="483.9" cy="345.7" r="4"/>
<circle cx="245.0" cy="521.0" r="4"/>
<circle cx="188.9" cy="562.8" r="4"/>
<circle cx="488.0" cy="317.0" r="4"/>
<circle cx="410.3" cy="395.0" r="4"/>
<circle cx="144.9" cy="605.4" r="4"/>
<circle cx="455.0" cy="367.2" r="4"/>
<circle cx="378.8" cy="390.9" r="4"/>
<circle cx="384.9" cy="373.4" r="4"/>
<circle cx="394.8" cy="355.1" r="4"/>
<circle cx="450.1" cy="319.2" r="4"/>
<circle cx="242.4" cy="491.6" r="4"/>
<circle cx="625.5" cy="199.1" r="4"/>
<circle cx="258.0" cy="550.3" r="4"/>
<circle cx="486.2" cy="274.2" r="4"/>
<circle cx="545.0" cy="314.4" r="4"/>
<circle cx="362.3" cy="414.2" r="4"/>
<circle cx="365.6" cy="437.8" r="4"/>
<circle cx="174.1" cy="558.6" r="4"/>
<circle cx="428.5" cy="354.9" r="4"/>
<circle cx="232.7" cy="498.2" r="4"/>
<circle cx="309.8" cy="460.2" r="4"/>
<circle cx="473.2" cy="341.4" r="4"/>
<circle cx="158.9" cy="575.4" r="4"/>
<circle cx="176.2" cy="550.4" r="4"/>
<circle cx="390.6" cy="410.5" r="4"/>
<circle cx="442.3" cy="405.4" r="4"/>
<circle cx="209.6" cy="529.9" r="4"/>
<circle cx="302.8" cy="440.4" r="4"/>
<circle cx="161.1" cy="602.7" r="4"/>
<circle cx="464.2" cy="374.7" r="4"/>
<circle cx="352.5" cy="420.3" r="4"/>
<circle cx="267.0" cy="460.7" r="4"/>
<circle cx="218.5" cy="560.6" r="4"/>
<circle cx="530.4" cy="254.2" r="4"/>
<circle cx="185.9" cy="550.0" r="4"/>
<circle cx="362.8" cy="389.2" r="4"/>
<circle cx="545.4" cy="291.6" r="4"/>
<circle cx="482.7" cy="382.2" r="4"/>
<circle cx="284.4" cy="540.5" r="4"/>
<circle cx="178.7" cy="582.5" r="4"/>
<circle cx="347.0" cy="410.0" r="4"/>
<circle cx="287.1" cy="460.0" r="4"/>
<circle cx="574.0" cy="224.9" r="4"/>
<circle cx="401.4" cy="368.9" r="4"/>
<circle cx="175.2" cy="584.9" r="4"/>
<circle cx="273.8" cy="520.7" r="4"/>
<circle cx="587.7" cy="219.4" r="4"/>
<circle cx="249.8" cy="519.2" r="4"/>
<circle cx="178.6" cy="563.5" r="4"/>
<circle cx="280.3" cy="474.7" r="4"/>
<circle cx="590.0" cy="233.1" r="4"/>
<circle cx="483.3" cy="294.7" r="4"/>
<circle cx="313.8" cy="400.1" r="4"/>
<circle cx="286.4" cy="440.6" r="4"/>
<circle cx="325.0" cy="428.8" r="4"/>
<circle cx="398.9" cy="362.7" r="4"/>
<circle cx="160.2" cy="605.3" r="4"/>
<circle cx="138.6" cy="605.6" r="4"/>
<circle cx="528.7" cy="295.1" r="4"/>
<circle cx="442.9" cy="387.2" r="4"/>
<circle cx="248.4" cy="478.7" r="4"/>
<circle cx="237.9" cy="535.0" r="4"/>
<circle cx="514.6" cy="309.1" r="4"/>
<circle cx="244.5" cy="490.4" r="4"/>
<circle cx="514.4" cy="271.4" r="4"/>
<circle cx="623.8" cy="199.2" r="4"/>
<circle cx="499.3" cy="274.0" r="4"/>
<circle cx="218.3" cy="551.8" r="4"/>
<circle cx="397.5" cy="391.5" r="4"/>
<circle cx="613.1" cy="226.0" r="4"/>
<circle cx="538.0" cy="263.7" r="4"/>
<circle cx="572.3" cy="206.4" r="4"/>
<circle cx="361.3" cy="445.0" r="4"/>
<circle cx="179.9" cy="546.1" r="4"/>
<circle cx="204.9" cy="538.1" r="4"/>
<circle cx="567.1" cy="269.2" r="4"/>
<circle cx="240.1" cy="489.2" r="4"/>
<circle cx="408.1" cy="356.5" r="4"/>
<circle cx="236.3" cy="518.7" r="4"/>
<circle cx="310.1" cy="463.8" r="4"/>
<circle cx="225.2" cy="542.2" r="4"/>
<circle cx="539.2" cy="286.9" r="4"/>
<circle cx="191.7" cy="577.0" r="4"/>
<circle cx="229.4" cy="518.5" r="4"/>
<circle cx="307.7" cy="495.2" r="4"/>
<circle cx="554.2" cy="288.8" r="4"/>
<circle cx="473.4" cy="277.1" r="4"/>
<circle cx="273.7" cy="481.5" r="4"/>
<circle cx="225.1" cy="498.8" r="4"/>
<circle cx="291.1" cy="434.4" r="4"/>
<circle cx="280.0" cy="450.0" r="4"/>
<circle cx="448.2" cy="337.5" r="4"/>
<circle cx="342.4" cy="401.4" r="4"/>
<circle cx="459.2" cy="296.4" r="4"/>
<circle cx="312.7" cy="450.5" r="4"/>
<circle cx="433.1" cy="350.4" r="4"/>
<circle cx="561.6" cy="262.4" r="4"/>
<circle cx="236.3" cy="491.4" r="4"/>
<circle cx="372.1" cy="375.1" r="4"/>
<circle cx="473.8" cy="430.7" r="4"/>
<circle cx="556.5" cy="219.0" r="4"/>
<circle cx="431.3" cy="341.1" r="4"/>
<circle cx="516.8" cy="303.8" r="4"/>
<circle cx="366.1" cy="415.5" r="4"/>
<circle cx="292.2" cy="492.3" r="4"/>
<circle cx="544.2" cy="248.9" r="4"/>
<circle cx="169.4" cy="590.4" r="4"/>
<circle cx="515.0" cy="271.9" r="4"/>
<circle cx="289.6" cy="434.1" r="4"/>
<circle cx="474.8" cy="364.5" r="4"/>
<circle cx="246.0" cy="526.4" r="4"/>
<circle cx="508.7" cy="268.8" r="4"/>
<circle cx="177.7" cy="574.2" r="4"/>
<circle cx="200.5" cy="561.6" r="4"/>
<circle cx="449.5" cy="335.5" r="4"/>
<circle cx="332.7" cy="453.9" r="4"/>
<circle cx="492.9" cy="274.0" r="4"/>
<circle cx="170.1" cy="578.6" r="4"/>
<circle cx="423.8" cy="333.2" r="4"/>
<circle cx="489.0" cy="278.9" r="4"/>
<circle cx="130.7" cy="616.2" r="4"/>
<circle cx="266.7" cy="494.4" r="4"/>
<circle cx="136.9" cy="612.6" r="4"/>
<circle cx="285.8" cy="496.4" r="4"/>
<circle cx="528.2" cy="278.5" r="4"/>
<circle cx="226.1" cy="547.6" r="4"/>
<circle cx="483.2" cy="319.1" r="4"/>
<circle cx="450.9" cy="429.4" r="4"/>
<circle cx="572.9" cy="269.2" r="4"/>
<circle cx="452.2" cy="302.3" r="4"/>
<circle cx="551.8" cy="277.9" r="4"/>
<circle cx="459.4" cy="354.6" r="4"/>
<circle cx="211.9" cy="571.4" r="4"/>
<circle cx="439.3" cy="354.4" r="4"/>
<circle cx="276.1" cy="527.3" r="4"/>
<circle cx="121.5" cy="623.0" r="4"/>
<circle cx="199.5" cy="558.6" r="4"/>
<circle cx="398.4" cy="407.2" r="4"/>
<circle cx="383.1" cy="404.4" r="4"/>
<circle cx="337.8" cy="425.6" r="4"/>
<circle cx="444.1" cy="337.4" r="4"/>
<circle cx="556.0" cy="287.6" r="4"/>
<circle cx="224.6" cy="531.3" r="4"/>
<circle cx="442.4" cy="363.2" r="4"/>
<circle cx="285.7" cy="512.0" r="4"/>
<circle cx="210.0" cy="537.5" r="4"/>
<circle cx="242.1" cy="518.4" r="4"/>
<circle cx="184.6" cy="551.0" r="4"/>
<circle cx="316.4" cy="431.7" r="4"/>
<circle cx="283.5" cy="540.5" r="4"/>
<circle cx="129.5" cy="613.7" r="4"/>
<circle cx="531.1" cy="287.5" r="4"/>
<circle cx="262.7" cy="487.3" r="4"/>
<circle cx="150.8" cy="587.5" r="4"/>
<circle cx="430.3" cy="391.2" r="4"/>
<circle cx="387.2" cy="371.5" r="4"/>
<circle cx="258.9" cy="471.1" r="4"/>
<circle cx="606.2" cy="196.4" r="4"/>
<circle cx="455.7" cy="310.2" r="4"/>
<circle cx="381.0" cy="407.1" r="4"/>
<circle cx="284.5" cy="512.6" r="4"/>
<circle cx="166.4" cy="572.0" r="4"/>
<circle cx="262.3" cy="468.8" r="4"/>
<circle cx="465.5" cy="322.2" r="4"/>
<circle cx="332.6" cy="453.6" r="4"/>
<circle cx="305.8" cy="458.7" r="4"/>
<circle cx="230.1" cy="502.6" r="4"/>
<circle cx="446.1" cy="313.3" r="4"/>
<circle cx="260.2" cy="497.6" r="4"/>
<circle cx="220.2" cy="519.9" r="4"/>
<circle cx="427.3" cy="377.7" r="4"/>
<circle cx="298.1" cy="503.4" r="4"/>
<circle cx="301.8" cy="474.4" r="4"/>
<circle cx="321.4" cy="435.8" r="4"/>
<circle cx="159.5" cy="590.3" r="4"/>
<circle cx="436.3" cy="327.8" r="4"/>
<circle cx="450.9" cy="296.2" r="4"/>
<circle cx="236.3" cy="537.3" r="4"/>
<circle cx="342.1" cy="433.7" r="4"/>
<circle cx="222.4" cy="588.5" r="4"/>
<circle cx="147.7" cy="604.0" r="4"/>
<circle cx="409.0" cy="380.0" r="4"/>
<circle cx="145.1" cy="599.2" r="4"/>
<circle cx="493.5" cy="307.6" r="4"/>
<circle cx="236.0" cy="529.3" r="4"/>
<circle cx="122.1" cy="638.1" r="4"/>
<circle cx="526.3" cy="282.5" r="4"/>
<circle cx="558.2" cy="263.5" r="4"/>
<circle cx="437.9" cy="348.3" r="4"/>
<circle cx="434.7" cy="315.4" r="4"/>
<circle cx="140.5" cy="599.6" r="4"/>
<circle cx="330.5" cy="408.6" r="4"/>
<circle cx="110.9" cy="640.4" r="4"/>
<circle cx="250.0" cy="491.6" r="4"/>
<circle cx="248.2" cy="487.9" r="4"/>
<circle cx="424.8" cy="367.2" r="4"/>
<circle cx="232.6" cy="537.9" r="4"/>
<circle cx="122.1" cy="628.4" r="4"/>
<circle cx="290.2" cy="446.0" r="4"/>
<circle cx="533.7" cy="292.8" r="4"/>
<circle cx="576.5" cy="226.6" r="4"/>
<circle cx="429.7" cy="366.7" r="4"/>
<circle cx="307.2" cy="464.0" r="4"/>
<circle cx="158.2" cy="601.3" r="4"/>
<circle cx="240.9" cy="475.1" r="4"/>
<circle cx="161.1" cy="581.0" r="4"/>
<circle cx="545.3" cy="239.4" r="4"/>
<circle cx="416.9" cy="385.5" r="4"/>
<circle cx="146.9" cy="608.1" r="4"/>
<circle cx="153.2" cy="611.8" r="4"/>
<circle cx="285.2" cy="475.2" r="4"/>
<circle cx="306.1" cy="481.6" r="4"/>
<circle cx="119.4" cy="637.9" r="4"/>
<circle cx="288.5" cy="455.5" r="4"/>
<circle cx="563.4" cy="302.1" r="4"/>
<circle cx="444.4" cy="414.1" r="4"/>
<circle cx="567.8" cy="220.1" r="4"/>
<circle cx="230.3" cy="486.9" r="4"/>
<circle cx="436.5" cy="320.0" r="4"/>
<circle cx="245.5" cy="513.5" r="4"/>
<circle cx="538.1" cy="269.5" r="4"/>
<circle cx="231.9" cy="557.9" r="4"/>
<circle cx="606.1" cy="196.6" r="4"/>
<circle cx="130.6" cy="616.5" r="4"/>
<circle cx="355.5" cy="435.8" r="4"/>
<circle cx="147.3" cy="616.6" r="4"/>
<circle cx="296.5" cy="439.8" r="4"/>
<circle cx="280.8" cy="517.2" r="4"/>
<circle cx="199.4" cy="571.8" r="4"/>
<circle cx="447.8" cy="312.7" r="4"/>
<circle cx="391.3" cy="410.5" r="4"/>
<circle cx="352.8" cy="421.9" r="4"/>
<circle cx="437.2" cy="313.7" r="4"/>
<circle cx="518.5" cy="306.9" r="4"/>
<circle cx="460.1" cy="315.5" r="4"/>
<circle cx="268.3" cy="494.9" r="4"/>
<circle cx="168.4" cy="586.9" r="4"/>
<circle cx="368.7" cy="386.8" r="4"/>
<circle cx="574.8" cy="224.9" r="4"/>
<circle cx="264.3" cy="470.0" r="4"/>
<circle cx="213.2" cy="510.7" r="4"/>
<circle cx="523.6" cy="280.6" r="4"/>
<circle cx="377.9" cy="398.8" r="4"/>
<circle cx="416.5" cy="361.8" r="4"/>
<circle cx="510.3" cy="304.4" r="4"/>
<circle cx="440.4" cy="311.4" r="4"/>
<circle cx="619.7" cy="179.0" r="4"/>
<circle cx="128.6" cy="621.2" r="4"/>
<circle cx="255.6" cy="505.6" r="4"/>
<circle cx="239.9" cy="492.3" r="4"/>
<circle cx="346.7" cy="453.5" r="4"/>
<circle cx="288.9" cy="494.6" r="4"/>
<circle cx="306.5" cy="473.1" r="4"/>
<circle cx="213.9" cy="522.6" r="4"/>
<circle cx="409.0" cy="364.4" r="4"/>
<circle cx="277.8" cy="480.8" r="4"/>
<circle cx="270.5" cy="486.9" r="4"/>
<circle cx="469.1" cy="307.5" r="4"/>
<circle cx="323.0" cy="404.9" r="4"/>
<circle cx="281.7" cy="469.0" r="4"/>
<circle cx="199.9" cy="545.6" r="4"/>
<circle cx="337.1" cy="418.1" r="4"/>
<circle cx="500.5" cy="320.3" r="4"/>
<circle cx="194.6" cy="563.1" r="4"/>
<circle cx="307.7" cy="423.8" r="4"/>
<circle cx="301.6" cy="456.7" r="4"/>
<circle cx="192.8" cy="588.2" r="4"/>
<circle cx="185.2" cy="567.1" r="4"/>
<circle cx="270.9" cy="460.0" r="4"/>
<circle cx="252.8" cy="540.6" r="4"/>
<circle cx="400.2" cy="392.8" r="4"/>
<circle cx="505.1" cy="367.2" r="4"/>
<circle cx="359.5" cy="495.1" r="4"/>
<circle cx="351.1" cy="428.8" r="4"/>
<circle cx="180.6" cy="585.5" r="4"/>
<circle cx="478.6" cy="336.1" r="4"/>
<circle cx="264.3" cy="494.9" r="4"/>
<circle cx="398.3" cy="373.0" r="4"/>
<circle cx="464.9" cy="335.9" r="4"/>
<circle cx="304.4" cy="423.5" r="4"/>
<circle cx="436.4" cy="319.2" r="4"/>
<circle cx="479.1" cy="270.6" r="4"/>
<circle cx="267.1" cy="466.1" r="4"/>
<circle cx="408.7" cy="370.3" r="4"/>
<circle cx="282.2" cy="452.1" r="4"/>
<circle cx="173.5" cy="571.9" r="4"/>
<circle cx="261.6" cy="493.1" r="4"/>
<circle cx="539.8" cy="297.0" r="4"/>
<circle cx="283.9" cy="469.5" r="4"/>
<circle cx="628.9" cy="200.1" r="4"/>
<circle cx="259.1" cy="496.7" r="4"/>
<circle cx="207.8" cy="522.3" r="4"/>
<circle cx="442.4" cy="362.9" r="4"/>
<circle cx="149.9" cy="588.5" r="4"/>
<circle cx="235.6" cy="522.8" r="4"/>
<circle cx="427.3" cy="351.0" r="4"/>
<circle cx="224.8" cy="532.9" r="4"/>
<circle cx="340.3" cy="404.3" r="4"/>
<circle cx="337.1" cy="455.5" r="4"/>
<circle cx="409.1" cy="343.8" r="4"/>
<circle cx="172.3" cy="564.2" r="4"/>
<circle cx="211.7" cy="571.6" r="4"/>
<circle cx="516.0" cy="272.1" r="4"/>
<circle cx="209.3" cy="543.1" r="4"/>
<circle cx="196.0" cy="588.5" r="4"/>
<circle cx="427.4" cy="344.2" r="4"/>
<circle cx="307.7" cy="474.1" r="4"/>
<circle cx="183.9" cy="591.9" r="4"/>
<circle cx="141.2" cy="614.3" r="4"/>
<circle cx="454.9" cy="312.2" r="4"/>
<circle cx="247.5" cy="525.3" r="4"/>
<circle cx="230.3" cy="511.9" r="4"/>
<circle cx="517.0" cy="312.6" r="4"/>
<circle cx="305.1" cy="426.2" r="4"/>
<circle cx="385.4" cy="374.0" r="4"/>
<circle cx="193.2" cy="570.7" r="4"/>
<circle cx="434.5" cy="321.4" r="4"/>
<circle cx="565.2" cy="227.1" r="4"/>
<circle cx="531.9" cy="316.0" r="4"/>
<circle cx="583.3" cy="217.5" r="4"/>
<circle cx="181.5" cy="555.5" r="4"/>
<circle cx="562.6" cy="240.4" r="4"/>
<circle cx="370.6" cy="414.6" r="4"/>
<circle cx="468.9" cy="283.7" r="4"/>
<circle cx="565.1" cy="273.5" r="4"/>
<circle cx="351.8" cy="393.1" r="4"/>
<circle cx="562.2" cy="246.5" r="4"/>
<circle cx="606.2" cy="222.8" r="4"/>
<circle cx="543.8" cy="313.5" r="4"/>
<circle cx="218.2" cy="537.0" r="4"/>
<circle cx="317.8" cy="496.4" r="4"/>
<circle cx="257.3" cy="504.7" r="4"/>
<circle cx="285.8" cy="493.8" r="4"/>
<circle cx="193.9" cy="537.0" r="4"/>
<circle cx="381.7" cy="383.2" r="4"/>
<circle cx="507.3" cy="340.2" r="4"/>
<circle cx="531.2" cy="291.4" r="4"/>
<circle cx="318.2" cy="497.0" r="4"/>
<circle cx="321.4" cy="467.8" r="4"/>
<circle cx="193.2" cy="556.9" r="4"/>
<circle cx="549.0" cy="264.2" r="4"/>
<circle cx="272.7" cy="470.8" r="4"/>
<circle cx="378.5" cy="442.3" r="4"/>
<circle cx="234.9" cy="525.6" r="4"/>
<circle cx="460.6" cy="378.0" r="4"/>
<circle cx="215.3" cy="549.5" r="4"/>
<circle cx="434.3" cy="330.4" r="4"/>
<circle cx="206.0" cy="542.0" r="4"/>
<circle cx="332.3" cy="435.3" r="4"/>
<circle cx="191.5" cy="537.3" r="4"/>
<circle cx="313.5" cy="456.7" r="4"/>
<circle cx="191.4" cy="573.4" r="4"/>
<circle cx="488.0" cy="299.1" r="4"/>
<circle cx="396.7" cy="402.7" r="4"/>
<circle cx="229.8" cy="501.3" r="4"/>
<circle cx="274.7" cy="454.1" r="4"/>
<circle cx="556.9" cy="260.3" r="4"/>
<circle cx="274.4" cy="487.5" r="4"/>
<circle cx="326.0" cy="421.4" r="4"/>
<circle cx="230.7" cy="515.8" r="4"/>
<circle cx="254.6" cy="502.4" r="4"/>
<circle cx="228.0" cy="516.7" r="4"/>
<circle cx="331.1" cy="446.7" r="4"/>
<circle cx="461.6" cy="336.3" r="4"/>
<circle cx="373.0" cy="377.4" r="4"/>
<circle cx="210.1" cy="527.3" r="4"/>
<circle cx="412.5" cy="348.5" r="4"/>
<circle cx="357.8" cy="441.6" r="4"/>
<circle cx="591.8" cy="230.4" r="4"/>
<circle cx="591.0" cy="240.7" r="4"/>
<circle cx="466.9" cy="338.4" r="4"/>
<circle cx="416.0" cy="348.3" r="4"/>
<circle cx="363.5" cy="398.8" r="4"/>
<circle cx="634.7" cy="184.3" r="4"/>
<circle cx="592.8" cy="242.8" r="4"/>
<circle cx="433.9" cy="382.2" r="4"/>
<circle cx="144.6" cy="622.8" r="4"/>
<circle cx="271.8" cy="485.4" r="4"/>
<circle cx="505.4" cy="293.4" r="4"/>
<circle cx="170.2" cy="581.2" r="4"/>
<circle cx="457.7" cy="311.1" r="4"/>
<circle cx="263.0" cy="486.1" r="4"/>
<circle cx="351.4" cy="432.8" r="4"/>
<circle cx="523.0" cy="271.3" r="4"/>
<circle cx="524.9" cy="262.0" r="4"/>
<circle cx="482.6" cy="382.1" r="4"/>
<circle cx="228.5" cy="571.4" r="4"/>
<circle cx="267.5" cy="474.2" r="4"/>
<circle cx="442.2" cy="405.1" r="4"/>
<circle cx="554.3" cy="270.7" r="4"/>
<circle cx="332.3" cy="452.3" r="4"/>
<circle cx="259.9" cy="518.1" r="4"/>
<circle cx="339.8" cy="446.4" r="4"/>
<circle cx="164.2" cy="581.7" r="4"/>
<circle cx="243.9" cy="541.8" r="4"/>
<circle cx="404.0" cy="346.1" r="4"/>
<circle cx="249.2" cy="540.5" r="4"/>
<circle cx="202.9" cy="575.7" r="4"/>
<circle cx="393.1" cy="394.4" r="4"/>
<circle cx="235.4" cy="548.9" r="4"/>
<circle cx="238.2" cy="536.8" r="4"/>
<circle cx="162.6" cy="574.3" r="4"/>
<circle cx="329.5" cy="465.8" r="4"/>
<circle cx="157.3" cy="589.6" r="4"/>
<circle cx="284.3" cy="500.5" r="4"/>
<circle cx="424.6" cy="293.4" r="4"/>
<circle cx="313.4" cy="445.3" r="4"/>
<circle cx="377.7" cy="395.7" r="4"/>
<circle cx="408.9" cy="383.3" r="4"/>
<circle cx="407.4" cy="328.5" r="4"/>
<circle cx="308.1" cy="473.5" r="4"/>
<circle cx="269.7" cy="508.6" r="4"/>
<circle cx="230.9" cy="558.9" r="4"/>
<circle cx="414.0" cy="323.2" r="4"/>
<circle cx="499.0" cy="286.1" r="4"/>
<circle cx="252.0" cy="527.3" r="4"/>
<circle cx="401.6" cy="381.3" r="4"/>
<circle cx="299.3" cy="489.4" r="4"/>
<circle cx="578.0" cy="231.2" r="4"/>
<circle cx="211.5" cy="559.7" r="4"/>
<circle cx="501.1" cy="266.0" r="4"/>
<circle cx="454.0" cy="351.8" r="4"/>
<circle cx="304.6" cy="500.4" r="4"/>
<circle cx="503.7" cy="252.8" r="4"/>
<circle cx="180.4" cy="569.3" r="4"/>
<circle cx="561.1" cy="258.1" r="4"/>
<circle cx="210.5" cy="538.9" r="4"/>
<circle cx="301.7" cy="422.1" r="4"/>
<circle cx="212.3" cy="518.0" r="4"/>
<circle cx="333.2" cy="527.8" r="4"/>
<circle cx="273.4" cy="487.6" r="4"/>
<circle cx="168.2" cy="601.2" r="4"/>
<circle cx="404.8" cy="340.8" r="4"/>
<circle cx="261.7" cy="530.5" r="4"/>
<circle cx="486.9" cy="306.4" r="4"/>
<circle cx="445.7" cy="368.1" r="4"/>
<circle cx="465.3" cy="302.7" r="4"/>
<circle cx="380.4" cy="385.9" r="4"/>
<circle cx="238.6" cy="504.7" r="4"/>
<circle cx="363.7" cy="425.2" r="4"/>
<circle cx="222.6" cy="536.9" r="4"/>
<circle cx="160.1" cy="580.3" r="4"/>
<circle cx="308.3" cy="468.3" r="4"/>
<circle cx="362.8" cy="425.0" r="4"/>
<circle cx="313.7" cy="461.8" r="4"/>
<circle cx="211.0" cy="537.3" r="4"/>
<circle cx="142.5" cy="618.8" r="4"/>
<circle cx="456.7" cy="343.5" r="4"/>
<circle cx="417.3" cy="370.8" r="4"/>
<circle cx="160.5" cy="592.6" r="4"/>
<circle cx="265.8" cy="483.0" r="4"/>
<circle cx="232.5" cy="544.6" r="4"/>
<circle cx="147.2" cy="607.9" r="4"/>
<circle cx="174.9" cy="607.5" r="4"/>
<circle cx="317.8" cy="462.3" r="4"/>
<circle cx="153.6" cy="605.6" r="4"/>
<circle cx="394.4" cy="393.8" r="4"/>
<circle cx="394.4" cy="393.2" r="4"/>
<circle cx="215.2" cy="522.5" r="4"/>
<circle cx="152.1" cy="587.3" r="4"/>
<circle cx="309.4" cy="453.4" r="4"/>
<circle cx="338.6" cy="433.2" r="4"/>
<circle cx="122.9" cy="625.3" r="4"/>
<circle cx="323.5" cy="459.3" r="4"/>
<circle cx="563.5" cy="302.5" r="4"/>
<circle cx="207.0" cy="546.0" r="4"/>
<circle cx="410.9" cy="385.1" r="4"/>
<circle cx="335.2" cy="443.9" r="4"/>
<circle cx="440.8" cy="311.2" r="4"/>
<circle cx="372.7" cy="432.3" r="4"/>
<circle cx="568.4" cy="223.0" r="4"/>
<circle cx="179.8" cy="543.8" r="4"/>
<circle cx="434.2" cy="381.9" r="4"/>
<circle cx="260.1" cy="507.8" r="4"/>
<circle cx="306.6" cy="472.4" r="4"/>
<circle cx="559.8" cy="228.2" r="4"/>
<circle cx="322.7" cy="514.6" r="4"/>
<circle cx="362.4" cy="396.5" r="4"/>
<circle cx="465.9" cy="333.7" r="4"/>
<circle cx="423.8" cy="367.7" r="4"/>
<circle cx="205.4" cy="566.8" r="4"/>
<circle cx="220.4" cy="538.5" r="4"/>
<circle cx="279.5" cy="485.7" r="4"/>
<circle cx="435.7" cy="364.5" r="4"/>
<circle cx="507.7" cy="340.4" r="4"/>
<circle cx="461.5" cy="314.0" r="4"/>
<circle cx="371.1" cy="383.7" r="4"/>
<circle cx="558.2" cy="236.5" r="4"/>
<circle cx="461.9" cy="286.9" r="4"/>
<circle cx="598.7" cy="196.6" r="4"/>
<circle cx="333.1" cy="527.3" r="4"/>
<circle cx="447.7" cy="366.6" r="4"/>
<circle cx="458.9" cy="345.1" r="4"/>
<circle cx="573.5" cy="237.0" r="4"/>
<circle cx="327.7" cy="461.8" r="4"/>
<circle cx="358.7" cy="408.8" r="4"/>
<circle cx="233.0" cy="496.1" r="4"/>
<circle cx="300.8" cy="442.8" r="4"/>
<circle cx="400.9" cy="458.7" r="4"/>
<circle cx="133.6" cy="621.1" r="4"/>
<circle cx="272.9" cy="448.9" r="4"/>
<circle cx="346.9" cy="424.8" r="4"/>
<circle cx="376.8" cy="395.1" r="4"/>
<circle cx="416.1" cy="338.2" r="4"/>
<circle cx="249.9" cy="528.2" r="4"/>
<circle cx="506.8" cy="330.5" r="4"/>
<circle cx="291.0" cy="508.0" r="4"/>
<circle cx="354.6" cy="434.5" r="4"/>
<circle cx="146.7" cy="596.0" r="4"/>
<circle cx="407.5" cy="388.5" r="4"/>
<circle cx="163.1" cy="581.4" r="4"/>
<circle cx="320.4" cy="413.3" r="4"/>
<circle cx="231.5" cy="507.0" r="4"/>
<circle cx="361.0" cy="402.7" r="4"/>
<circle cx="224.7" cy="559.5" r="4"/>
<circle cx="586.7" cy="246.5" r="4"/>
<circle cx="405.2" cy="393.5" r="4"/>
<circle cx="130.4" cy="624.6" r="4"/>
<circle cx="296.8" cy="502.9" r="4"/>
<circle cx="308.1" cy="472.4" r="4"/>
<circle cx="395.2" cy="384.7" r="4"/>
<circle cx="365.0" cy="412.3" r="4"/>
<circle cx="130.0" cy="628.5" r="4"/>
<circle cx="373.7" cy="418.8" r="4"/>
<circle cx="451.1" cy="355.6" r="4"/>
<circle cx="390.9" cy="353.1" r="4"/>
<circle cx="419.1" cy="341.7" r="4"/>
<circle cx="367.6" cy="380.7" r="4"/>
<circle cx="289.2" cy="521.8" r="4"/>
<circle cx="232.4" cy="496.7" r="4"/>
<circle cx="145.5" cy="603.7" r="4"/>
<circle cx="351.9" cy="438.2" r="4"/>
<circle cx="454.2" cy="352.9" r="4"/>
<circle cx="329.9" cy="420.4" r="4"/>
<circle cx="168.8" cy="561.2" r="4"/>
<circle cx="552.9" cy="242.3" r="4"/>
<circle cx="110.3" cy="646.8" r="4"/>
<circle cx="162.0" cy="603.9" r="4"/>
<circle cx="459.1" cy="304.2" r="4"/>
<circle cx="292.9" cy="484.8" r="4"/>
<circle cx="275.2" cy="496.6" r="4"/>
<circle cx="531.1" cy="276.5" r="4"/>
<circle cx="443.5" cy="359.3" r="4"/>
<circle cx="268.3" cy="500.3" r="4"/>
<circle cx="370.1" cy="382.3" r="4"/>
<circle cx="196.2" cy="530.9" r="4"/>
<circle cx="572.7" cy="207.0" r="4"/>
<circle cx="328.7" cy="473.7" r="4"/>
<circle cx="277.0" cy="477.8" r="4"/>
<circle cx="351.4" cy="419.0" r="4"/>
<circle cx="356.0" cy="390.7" r="4"/>
<circle cx="250.6" cy="488.1" r="4"/>
<circle cx="250.9" cy="509.3" r="4"/>
<circle cx="168.2" cy="588.2" r="4"/>
<circle cx="345.8" cy="409.4" r="4"/>
<circle cx="407.2" cy="359.0" r="4"/>
<circle cx="199.6" cy="571.4" r="4"/>
<circle cx="473.4" cy="370.7" r="4"/>
<circle cx="439.1" cy="413.3" r="4"/>
<circle cx="582.1" cy="240.9" r="4"/>
<circle cx="451.4" cy="366.1" r="4"/>
<circle cx="359.3" cy="433.0" r="4"/>
<circle cx="139.7" cy="611.9" r="4"/>
<circle cx="128.3" cy="632.2" r="4"/>
<circle cx="506.9" cy="316.8" r="4"/>
<circle cx="450.8" cy="330.5" r="4"/>
<circle cx="296.8" cy="486.5" r="4"/>
<circle cx="359.2" cy="393.9" r="4"/>
<circle cx="399.6" cy="421.2" r="4"/>
<circle cx="353.4" cy="427.4" r="4"/>
<circle cx="282.8" cy="440.7" r="4"/>
<circle cx="564.4" cy="280.2" r="4"/>
<circle cx="251.4" cy="512.0" r="4"/>
<circle cx="421.6" cy="363.8" r="4"/>
<circle cx="219.8" cy="537.7" r="4"/>
<circle cx="115.6" cy="642.6" r="4"/>
<circle cx="240.7" cy="498.4" r="4"/>
<circle cx="245.3" cy="541.5" r="4"/>
<circle cx="360.2" cy="434.6" r="4"/>
<circle cx="396.2" cy="389.9" r="4"/>
<circle cx="263.9" cy="526.9" r="4"/>
<circle cx="365.0" cy="384.9" r="4"/>
<circle cx="372.6" cy="396.4" r="4"/>
<circle cx="468.7" cy="293.9" r="4"/>
<circle cx="351.1" cy="420.7" r="4"/>
<circle cx="398.0" cy="398.7" r="4"/>
<circle cx="413.1" cy="343.7" r="4"/>
<circle cx="571.4" cy="269.5" r="4"/>
<circle cx="288.4" cy="492.9" r="4"/>
<circle cx="391.6" cy="333.8" r="4"/>
<circle cx="357.9" cy="456.9" r="4"/>
<circle cx="284.2" cy="468.4" r="4"/>
<circle cx="220.1" cy="548.4" r="4"/>
<circle cx="166.6" cy="580.1" r="4"/>
<circle cx="473.7" cy="286.7" r="4"/>
<circle cx="415.7" cy="341.3" r="4"/>
<circle cx="259.4" cy="541.0" r="4"/>
<circle cx="416.6" cy="358.9" r="4"/>
<circle cx="294.5" cy="444.7" r="4"/>
<circle cx="484.0" cy="303.9" r="4"/>
<circle cx="394.3" cy="440.2" r="4"/>
<circle cx="312.3" cy="455.6" r="4"/>
<circle cx="200.0" cy="561.5" r="4"/>
<circle cx="574.6" cy="258.2" r="4"/>
<circle cx="186.0" cy="541.5" r="4"/>
<circle cx="141.4" cy="614.5" r="4"/>
<circle cx="588.2" cy="230.1" r="4"/>
<circle cx="220.1" cy="526.4" r="4"/>
<circle cx="540.1" cy="216.9" r="4"/>
<circle cx="422.7" cy="378.0" r="4"/>
<circle cx="239.4" cy="530.4" r="4"/>
<circle cx="340.3" cy="417.1" r="4"/>
<circle cx="181.9" cy="583.9" r="4"/>
<circle cx="459.9" cy="301.4" r="4"/>
<circle cx="427.6" cy="302.8" r="4"/>
<circle cx="577.2" cy="208.0" r="4"/>
<circle cx="341.9" cy="431.4" r="4"/>
<circle cx="137.1" cy="606.2" r="4"/>
<circle cx="382.6" cy="387.4" r="4"/>
<circle cx="125.3" cy="622.6" r="4"/>
<circle cx="117.5" cy="634.8" r="4"/>
<circle cx="272.7" cy="522.3" r="4"/>
<circle cx="202.8" cy="565.5" r="4"/>
<circle cx="187.5" cy="544.9" r="4"/>
<circle cx="404.5" cy="349.3" r="4"/>
<circle cx="556.1" cy="253.7" r="4"/>
<circle cx="293.4" cy="506.7" r="4"/>
<circle cx="410.7" cy="337.7" r="4"/>
<circle cx="284.2" cy="492.9" r="4"/>
<circle cx="302.0" cy="435.4" r="4"/>
<circle cx="467.2" cy="360.8" r="4"/>
<circle cx="409.1" cy="406.9" r="4"/>
<circle cx="587.7" cy="237.8" r="4"/>
<circle cx="140.9" cy="602.7" r="4"/>
<circle cx="194.7" cy="544.5" r="4"/>
<circle cx="474.9" cy="307.4" r="4"/>
<circle cx="155.6" cy="590.1" r="4"/>
<circle cx="171.0" cy="547.6" r="4"/>
<circle cx="440.5" cy="327.7" r="4"/>
<circle cx="293.4" cy="429.1" r="4"/>
<circle cx="276.9" cy="433.1" r="4"/>
<circle cx="146.1" cy="618.1" r="4"/>
<circle cx="410.7" cy="402.8" r="4"/>
<circle cx="176.2" cy="549.7" r="4"/>
<circle cx="164.0" cy="588.7" r="4"/>
<circle cx="572.6" cy="231.8" r="4"/>
<circle cx="294.7" cy="475.1" r="4"/>
<circle cx="335.3" cy="446.5" r="4"/>
<circle cx="475.2" cy="283.9" r="4"/>
<circle cx="417.6" cy="364.3" r="4"/>
<circle cx="413.7" cy="375.3" r="4"/>
<circle cx="438.4" cy="335.4" r="4"/>
<circle cx="293.2" cy="431.0" r="4"/>
<circle cx="186.0" cy="543.3" r="4"/>
<circle cx="282.4" cy="515.1" r="4"/>
<circle cx="309.1" cy="453.7" r="4"/>
<circle cx="331.9" cy="463.2" r="4"/>
<circle cx="472.1" cy="339.1" r="4"/>
<circle cx="298.7" cy="467.7" r="4"/>
<circle cx="229.6" cy="541.1" r="4"/>
<circle cx="319.4" cy="475.1" r="4"/>
<circle cx="592.5" cy="233.4" r="4"/>
<circle cx="168.3" cy="558.2" r="4"/>
<circle cx="391.1" cy="450.3" r="4"/>
<circle cx="564.4" cy="211.6" r="4"/>
<circle cx="348.1" cy="380.3" r="4"/>
<circle cx="567.0" cy="241.7" r="4"/>
<circle cx="444.6" cy="319.2" r="4"/>
<circle cx="390.5" cy="373.8" r="4"/>
<circle cx="191.4" cy="582.0" r="4"/>
<circle cx="320.9" cy="446.8" r="4"/>
<circle cx="494.2" cy="311.4" r="4"/>
<circle cx="328.3" cy="472.7" r="4"/>
<circle cx="439.6" cy="318.8" r="4"/>
<circle cx="364.3" cy="431.9" r="4"/>
<circle cx="523.9" cy="327.8" r="4"/>
<circle cx="485.9" cy="272.5" r="4"/>
<circle cx="200.6" cy="534.5" r="4"/>
<circle cx="457.5" cy="316.3" r="4"/>
<circle cx="225.3" cy="551.6" r="4"/>
<circle cx="276.2" cy="448.7" r="4"/>
<circle cx="329.6" cy="409.4" r="4"/>
<circle cx="270.5" cy="504.8" r="4"/>
<circle cx="225.7" cy="555.3" r="4"/>
<circle cx="412.2" cy="379.7" r="4"/>
<circle cx="530.1" cy="284.0" r="4"/>
<circle cx="438.1" cy="320.6" r="4"/>
<circle cx="403.8" cy="369.0" r="4"/>
<circle cx="506.9" cy="331.2" r="4"/>
<circle cx="141.7" cy="622.8" r="4"/>
<circle cx="472.7" cy="310.2" r="4"/>
<circle cx="350.0" cy="389.6" r="4"/>
<circle cx="206.1" cy="527.5" r="4"/>
<circle cx="408.2" cy="399.8" r="4"/>
<circle cx="297.4" cy="496.5" r="4"/>
<circle cx="259.1" cy="448.0" r="4"/>
<circle cx="330.8" cy="435.7" r="4"/>
<circle cx="136.9" cy="621.4" r="4"/>
<circle cx="282.6" cy="485.9" r="4"/>
<circle cx="331.5" cy="459.6" r="4"/>
<circle cx="491.7" cy="321.2" r="4"/>
<circle cx="541.5" cy="288.8" r="4"/>
<circle cx="169.0" cy="587.8" r="4"/>
<circle cx="429.4" cy="326.4" r="4"/>
<circle cx="361.0" cy="419.0" r="4"/>
<circle cx="344.5" cy="430.7" r="4"/>
<circle cx="416.3" cy="377.6" r="4"/>
<circle cx="494.9" cy="254.7" r="4"/>
<circle cx="441.7" cy="386.6" r="4"/>
<circle cx="143.6" cy="613.1" r="4"/>
<circle cx="394.3" cy="419.9" r="4"/>
<circle cx="396.5" cy="412.5" r="4"/>
<circle cx="217.5" cy="545.2" r="4"/>
<circle cx="375.0" cy="410.7" r="4"/>
<circle cx="506.6" cy="300.4" r="4"/>
<circle cx="436.0" cy="361.1" r="4"/>
<circle cx="284.7" cy="483.7" r="4"/>
<circle cx="375.7" cy="413.7" r="4"/>
<circle cx="542.5" cy="257.2" r="4"/>
<circle cx="436.5" cy="265.2" r="4"/>
<circle cx="283.3" cy="492.3" r="4"/>
<circle cx="303.1" cy="453.9" r="4"/>
<circle cx="495.1" cy="291.7" r="4"/>
<circle cx="605.7" cy="212.8" r="4"/>
<circle cx="595.9" cy="236.8" r="4"/>
<circle cx="508.4" cy="293.6" r="4"/>
<circle cx="169.1" cy="580.9" r="4"/>
<circle cx="537.4" cy="246.0" r="4"/>
<circle cx="515.3" cy="272.4" r="4"/>
<circle cx="190.5" cy="551.9" r="4"/>
<circle cx="338.0" cy="446.9" r="4"/>
<circle cx="353.0" cy="420.7" r="4"/>
<circle cx="293.4" cy="441.8" r="4"/>
<circle cx="197.4" cy="583.6" r="4"/>
<circle cx="533.5" cy="277.6" r="4"/>
<circle cx="610.4" cy="185.6" r="4"/>
<circle cx="218.9" cy="551.5" r="4"/>
<circle cx="252.0" cy="537.6" r="4"/>
<circle cx="365.3" cy="441.8" r="4"/>
<circle cx="152.8" cy="596.6" r="4"/>
<circle cx="547.1" cy="251.8" r="4"/>
<circle cx="177.7" cy="573.8" r="4"/>
<circle cx="407.4" cy="308.2" r="4"/>
<circle cx="485.4" cy="323.7" r="4"/>
<circle cx="285.7" cy="485.1" r="4"/>
<circle cx="251.4" cy="479.6" r="4"/>
<circle cx="269.8" cy="477.8" r="4"/>
<circle cx="354.9" cy="408.4" r="4"/>
<circle cx="165.2" cy="572.8" r="4"/>
<circle cx="407.5" cy="345.6" r="4"/>
<circle cx="545.3" cy="238.0" r="4"/>
<circle cx="113.0" cy="644.0" r="4"/>
<circle cx="339.9" cy="403.6" r="4"/>
<circle cx="212.3" cy="558.8" r="4"/>
<circle cx="471.5" cy="308.9" r="4"/>
<circle cx="410.1" cy="384.5" r="4"/>
<circle cx="228.0" cy="532.2" r="4"/>
<circle cx="190.3" cy="556.4" r="4"/>
<circle cx="456.1" cy="314.7" r="4"/>
<circle cx="318.1" cy="461.9" r="4"/>
<circle cx="144.6" cy="605.4" r="4"/>
<circle cx="430.7" cy="390.9" r="4"/>
<circle cx="152.1" cy="597.1" r="4"/>
<circle cx="374.3" cy="368.8" r="4"/>
<circle cx="370.5" cy="421.2" r="4"/>
<circle cx="296.5" cy="476.2" r="4"/>
<circle cx="547.6" cy="229.1" r="4"/>
<circle cx="204.9" cy="579.8" r="4"/>
<circle cx="219.2" cy="538.5" r="4"/>
<circle cx="457.1" cy="333.3" r="4"/>
<circle cx="180.2" cy="608.8" r="4"/>
<circle cx="369.5" cy="379.9" r="4"/>
<circle cx="406.4" cy="351.4" r="4"/>
<circle cx="425.2" cy="326.1" r="4"/>
<circle cx="234.1" cy="517.1" r="4"/>
<circle cx="418.9" cy="376.7" r="4"/>
<circle cx="281.1" cy="453.3" r="4"/>
<circle cx="184.2" cy="582.4" r="4"/>
<circle cx="202.1" cy="554.5" r="4"/>
<circle cx="379.1" cy="404.5" r="4"/>
<circle cx="544.3" cy="243.3" r="4"/>
<circle cx="411.1" cy="354.1" r="4"/>
<circle cx="438.7" cy="413.1" r="4"/>
<circle cx="412.5" cy="386.5" r="4"/>
<circle cx="295.6" cy="492.6" r="4"/>
<circle cx="292.5" cy="437.0" r="4"/>
<circle cx="329.7" cy="413.5" r="4"/>
<circle cx="254.0" cy="510.6" r="4"/>
<circle cx="548.8" cy="239.2" r="4"/>
<circle cx="425.9" cy="321.9" r="4"/>
<circle cx="238.4" cy="519.3" r="4"/>
<circle cx="472.7" cy="338.6" r="4"/>
<circle cx="124.1" cy="630.0" r="4"/>
<circle cx="274.3" cy="469.7" r="4"/>
<circle cx="549.0" cy="241.8" r="4"/>
<circle cx="552.4" cy="231.2" r="4"/>
<circle cx="503.9" cy="314.2" r="4"/>
<circle cx="438.3" cy="314.0" r="4"/>
<circle cx="304.8" cy="472.4" r="4"/>
<circle cx="272.2" cy="466.6" r="4"/>
<circle cx="415.8" cy="338.1" r="4"/>
<circle cx="198.1" cy="567.3" r="4"/>
<circle cx="427.9" cy="327.8" r="4"/>
<circle cx="241.8" cy="498.4" r="4"/>
<circle cx="166.6" cy="599.0" r="4"/>
<circle cx="215.9" cy="552.5" r="4"/>
<circle cx="307.2" cy="434.1" r="4"/>
<circle cx="254.8" cy="510.6" r="4"/>
<circle cx="153.9" cy="603.3" r="4"/>
<circle cx="141.8" cy="613.3" r="4"/>
<circle cx="418.1" cy="364.2" r="4"/>
<circle cx="125.3" cy="630.4" r="4"/>
<circle cx="181.5" cy="535.8" r="4"/>
<circle cx="145.7" cy="610.4" r="4"/>
<circle cx="589.3" cy="248.1" r="4"/>
<circle cx="223.3" cy="556.3" r="4"/>
<circle cx="374.3" cy="413.4" r="4"/>
<circle cx="173.4" cy="579.7" r="4"/>
<circle cx="169.7" cy="561.2" r="4"/>
<circle cx="522.8" cy="263.5" r="4"/>
<circle cx="556.9" cy="282.7" r="4"/>
<circle cx="377.2" cy="363.5" r="4"/>
<circle cx="562.9" cy="255.0" r="4"/>
<circle cx="407.6" cy="355.0" r="4"/>
<circle cx="189.1" cy="586.6" r="4"/>
<circle cx="337.5" cy="414.0" r="4"/>
<circle cx="257.5" cy="515.1" r="4"/>
<circle cx="492.2" cy="313.8" r="4"/>
<circle cx="239.0" cy="537.8" r="4"/>
<circle cx="126.8" cy="619.0" r="4"/>
<circle cx="458.1" cy="401.5" r="4"/>
<circle cx="176.6" cy="589.0" r="4"/>
<circle cx="294.1" cy="473.1" r="4"/>
<circle cx="130.9" cy="620.9" r="4"/>
<circle cx="291.3" cy="436.8" r="4"/>
<circle cx="558.4" cy="232.2" r="4"/>
<circle cx="479.5" cy="270.5" r="4"/>
<circle cx="571.2" cy="246.4" r="4"/>
<circle cx="264.5" cy="478.9" r="4"/>
<circle cx="308.3" cy="480.1" r="4"/>
<circle cx="176.8" cy="557.1" r="4"/>
<circle cx="187.9" cy="541.4" r="4"/>
<circle cx="251.4" cy="512.4" r="4"/>
<circle cx="613.1" cy="207.5" r="4"/>
<circle cx="291.6" cy="477.9" r="4"/>
<circle cx="417.5" cy="394.1" r="4"/>
<circle cx="265.8" cy="524.2" r="4"/>
<circle cx="207.5" cy="526.0" r="4"/>
<circle cx="502.2" cy="267.2" r="4"/>
<circle cx="541.9" cy="293.5" r="4"/>
<circle cx="352.9" cy="440.8" r="4"/>
<circle cx="526.8" cy="290.3" r="4"/>
<circle cx="290.1" cy="508.3" r="4"/>
<circle cx="609.6" cy="208.8" r="4"/>
<circle cx="166.9" cy="593.0" r="4"/>
<circle cx="468.2" cy="360.6" r="4"/>
<circle cx="262.6" cy="513.6" r="4"/>
<circle cx="184.0" cy="559.2" r="4"/>
<circle cx="413.1" cy="347.1" r="4"/>
<circle cx="272.7" cy="460.8" r="4"/>
<circle cx="193.6" cy="538.3" r="4"/>
<circle cx="234.6" cy="527.7" r="4"/>
<circle cx="359.1" cy="393.7" r="4"/>
<circle cx="404.1" cy="362.9" r="4"/>
<circle cx="426.9" cy="346.8" r="4"/>
<circle cx="202.0" cy="573.7" r="4"/>
<circle cx="286.1" cy="489.6" r="4"/>
<circle cx="308.0" cy="426.8" r="4"/>
<circle cx="401.3" cy="353.2" r="4"/>
<circle cx="254.1" cy="460.6" r="4"/>
<circle cx="168.4" cy="572.4" r="4"/>
<circle cx="339.8" cy="450.0" r="4"/>
<circle cx="349.2" cy="433.3" r="4"/>
<circle cx="289.1" cy="483.5" r="4"/>
<circle cx="345.0" cy="420.9" r="4"/>
<circle cx="546.0" cy="276.4" r="4"/>
<circle cx="204.8" cy="544.2" r="4"/>
<circle cx="195.3" cy="585.5" r="4"/>
<circle cx="323.7" cy="434.7" r="4"/>
<circle cx="147.5" cy="608.2" r="4"/>
<circle cx="384.3" cy="378.8" r="4"/>
<circle cx="281.7" cy="442.5" r="4"/>
<circle cx="262.0" cy="491.6" r="4"/>
<circle cx="160.5" cy="575.9" r="4"/>
<circle cx="215.2" cy="544.8" r="4"/>
<circle cx="200.2" cy="576.5" r="4"/>
<circle cx="198.9" cy="558.2" r="4"/>
<circle cx="427.4" cy="346.4" r="4"/>
<circle cx="553.6" cy="235.4" r="4"/>
<circle cx="561.0" cy="253.8" r="4"/>
<circle cx="179.9" cy="563.3" r="4"/>
<circle cx="451.0" cy="429.2" r="4"/>
<circle cx="507.7" cy="325.9" r="4"/>
<circle cx="339.9" cy="433.2" r="4"/>
<circle cx="336.3" cy="414.3" r="4"/>
<circle cx="459.9" cy="318.0" r="4"/>
<circle cx="313.5" cy="460.8" r="4"/>
<circle cx="257.3" cy="476.3" r="4"/>
<circle cx="168.8" cy="590.6" r="4"/>
<circle cx="592.1" cy="242.3" r="4"/>
<circle cx="454.1" cy="312.5" r="4"/>
<circle cx="164.8" cy="591.0" r="4"/>
<circle cx="421.8" cy="383.2" r="4"/>
<circle cx="443.3" cy="343.4" r="4"/>
<circle cx="166.0" cy="596.4" r="4"/>
<circle cx="251.7" cy="515.8" r="4"/>
<circle cx="407.8" cy="376.7" r="4"/>
<circle cx="444.6" cy="317.4" r="4"/>
<circle cx="350.3" cy="431.7" r="4"/>
<circle cx="342.8" cy="442.9" r="4"/>
<circle cx="138.7" cy="600.7" r="4"/>
<circle cx="201.3" cy="585.9" r="4"/>
<circle cx="248.2" cy="487.8" r="4"/>
<circle cx="299.8" cy="452.0" r="4"/>
<circle cx="208.1" cy="571.1" r="4"/>
</g>
<path d="M110.5 646.3L838.5 32.9" stroke="#fff" stroke-width="6" fill="none"/>
<path d="M110.5 646.3L838.5 32.9" stroke="#000" stroke-width="1.1" stroke-dasharray="10.6 5.5" stroke-dashoffset="6" fill="none"/>
<text x="110.5" y="682" text-anchor="middle" class="tk">0</text>
<text x="256.1" y="682" text-anchor="middle" class="tk">0.2</text>
<text x="401.7" y="682" text-anchor="middle" class="tk">0.4</text>
<text x="547.3" y="682" text-anchor="middle" class="tk">0.6</text>
<text x="692.9" y="682" text-anchor="middle" class="tk">0.8</text>
<text x="838.5" y="682" text-anchor="middle" class="tk">1</text>
<text x="101" y="656.2" text-anchor="end" class="tk">0</text>
<text x="101" y="594.8" text-anchor="end" class="tk">0.1</text>
<text x="101" y="533.4" text-anchor="end" class="tk">0.2</text>
<text x="101" y="472.0" text-anchor="end" class="tk">0.3</text>
<text x="101" y="410.6" text-anchor="end" class="tk">0.4</text>
<text x="101" y="349.2" text-anchor="end" class="tk">0.5</text>
<text x="101" y="287.8" text-anchor="end" class="tk">0.6</text>
<text x="101" y="226.4" text-anchor="end" class="tk">0.7</text>
<text x="101" y="165.0" text-anchor="end" class="tk">0.8</text>
<text x="101" y="103.6" text-anchor="end" class="tk">0.9</text>
<text x="101" y="42.2" text-anchor="end" class="tk">1</text>
<text x="279.3" y="717.6" class="lb">PV power production calculated</text>
<text x="375" y="750.8" class="lb">in ECEM [W/Wp]</text>
<text transform="translate(19.8,524.4) rotate(-90)" class="lb">PV power production reported</text>
<text transform="translate(53.5,468) rotate(-90)" class="lb">by the TSO(s) [W/Wp]</text>
<text x="370.8" y="19" class="tl1">(a)</text>
<text x="426.5" y="21.8" class="tl2">France</text>
<rect x="504.5" y="460.5" width="319" height="163.5" fill="none" stroke="#262626" stroke-width="1"/>
<text x="514.4" y="487.8" class="lg">Number of samples =1831</text>
<text x="513.3" y="520.8" class="lg">Bias=-2.311 10<tspan dx="1" dy="-10.5" font-size="16.5px">-2</tspan><tspan dx="0.5" dy="10.5"> W/Wp</tspan></text>
<text x="515.7" y="553.7" class="lg">MAE=2.91 10<tspan dx="1" dy="-10.5" font-size="16.5px">-2</tspan><tspan dx="0.5" dy="10.5"> W/Wp</tspan></text>
<text x="515.7" y="586" class="lg">RMSE=4.136 10<tspan dx="1" dy="-10.5" font-size="16.5px">-2</tspan><tspan dx="0.5" dy="10.5"> W/Wp</tspan></text>
<text x="513.5" y="612.3" class="lg"><tspan letter-spacing="-0.2">Correlation=0.987</tspan></text>
<path d="M1228.5 33.5V647.5 M1373.5 33.5V647.5 M1519.5 33.5V647.5 M1664.5 33.5V647.5 M1082.5 586.5H1810.5 M1082.5 524.5H1810.5 M1082.5 463.5H1810.5 M1082.5 401.5H1810.5 M1082.5 340.5H1810.5 M1082.5 279.5H1810.5 M1082.5 217.5H1810.5 M1082.5 156.5H1810.5 M1082.5 94.5H1810.5" stroke="#dedede" stroke-width="1" fill="none"/>
<path d="M1082.5 647.5V33.5H1810.5V647.5Z M1082.5 647.5v-7M1082.5 33.5v7 M1228.5 647.5v-7M1228.5 33.5v7 M1373.5 647.5v-7M1373.5 33.5v7 M1519.5 647.5v-7M1519.5 33.5v7 M1664.5 647.5v-7M1664.5 33.5v7 M1810.5 647.5v-7M1810.5 33.5v7 M1082.5 647.5h7M1810.5 647.5h-7 M1082.5 586.5h7M1810.5 586.5h-7 M1082.5 524.5h7M1810.5 524.5h-7 M1082.5 463.5h7M1810.5 463.5h-7 M1082.5 401.5h7M1810.5 401.5h-7 M1082.5 340.5h7M1810.5 340.5h-7 M1082.5 279.5h7M1810.5 279.5h-7 M1082.5 217.5h7M1810.5 217.5h-7 M1082.5 156.5h7M1810.5 156.5h-7 M1082.5 94.5h7M1810.5 94.5h-7 M1082.5 33.5h7M1810.5 33.5h-7" stroke="#262626" stroke-width="1" fill="none"/>
<g class="mk">
<circle cx="1192.5" cy="561.2" r="4"/>
<circle cx="1316.6" cy="440.0" r="4"/>
<circle cx="1187.3" cy="536.9" r="4"/>
<circle cx="1119.7" cy="604.7" r="4"/>
<circle cx="1286.0" cy="468.3" r="4"/>
<circle cx="1110.4" cy="619.4" r="4"/>
<circle cx="1434.7" cy="386.8" r="4"/>
<circle cx="1458.0" cy="336.8" r="4"/>
<circle cx="1370.7" cy="450.0" r="4"/>
<circle cx="1168.0" cy="529.2" r="4"/>
<circle cx="1204.9" cy="527.7" r="4"/>
<circle cx="1292.8" cy="425.6" r="4"/>
<circle cx="1460.2" cy="379.8" r="4"/>
<circle cx="1468.5" cy="341.5" r="4"/>
<circle cx="1243.2" cy="514.8" r="4"/>
<circle cx="1305.0" cy="500.3" r="4"/>
<circle cx="1428.0" cy="340.8" r="4"/>
<circle cx="1445.7" cy="316.0" r="4"/>
<circle cx="1125.8" cy="581.4" r="4"/>
<circle cx="1404.1" cy="389.4" r="4"/>
<circle cx="1451.8" cy="354.1" r="4"/>
<circle cx="1314.8" cy="494.0" r="4"/>
<circle cx="1164.6" cy="545.5" r="4"/>
<circle cx="1280.2" cy="564.8" r="4"/>
<circle cx="1132.1" cy="592.1" r="4"/>
<circle cx="1188.2" cy="549.8" r="4"/>
<circle cx="1246.9" cy="524.5" r="4"/>
<circle cx="1148.4" cy="563.7" r="4"/>
<circle cx="1466.1" cy="337.1" r="4"/>
<circle cx="1286.0" cy="464.5" r="4"/>
<circle cx="1379.4" cy="413.2" r="4"/>
<circle cx="1363.9" cy="417.5" r="4"/>
<circle cx="1131.3" cy="605.8" r="4"/>
<circle cx="1276.0" cy="525.3" r="4"/>
<circle cx="1125.5" cy="630.0" r="4"/>
<circle cx="1159.2" cy="575.1" r="4"/>
<circle cx="1226.7" cy="493.1" r="4"/>
<circle cx="1300.0" cy="504.4" r="4"/>
<circle cx="1436.4" cy="360.1" r="4"/>
<circle cx="1155.9" cy="603.6" r="4"/>
<circle cx="1300.0" cy="480.5" r="4"/>
<circle cx="1289.2" cy="485.3" r="4"/>
<circle cx="1306.6" cy="433.9" r="4"/>
<circle cx="1130.7" cy="624.8" r="4"/>
<circle cx="1374.6" cy="481.7" r="4"/>
<circle cx="1411.2" cy="394.2" r="4"/>
<circle cx="1106.9" cy="625.8" r="4"/>
<circle cx="1302.6" cy="504.9" r="4"/>
<circle cx="1114.5" cy="608.3" r="4"/>
<circle cx="1181.5" cy="556.6" r="4"/>
<circle cx="1297.5" cy="457.6" r="4"/>
<circle cx="1254.8" cy="512.2" r="4"/>
<circle cx="1167.6" cy="558.8" r="4"/>
<circle cx="1357.2" cy="421.5" r="4"/>
<circle cx="1579.1" cy="280.1" r="4"/>
<circle cx="1240.5" cy="530.8" r="4"/>
<circle cx="1149.9" cy="593.5" r="4"/>
<circle cx="1204.3" cy="535.7" r="4"/>
<circle cx="1351.4" cy="479.0" r="4"/>
<circle cx="1335.0" cy="511.2" r="4"/>
<circle cx="1235.3" cy="555.0" r="4"/>
<circle cx="1262.5" cy="507.7" r="4"/>
<circle cx="1231.8" cy="510.1" r="4"/>
<circle cx="1270.7" cy="517.7" r="4"/>
<circle cx="1465.7" cy="351.9" r="4"/>
<circle cx="1439.4" cy="355.6" r="4"/>
<circle cx="1376.5" cy="389.1" r="4"/>
<circle cx="1421.7" cy="390.9" r="4"/>
<circle cx="1179.5" cy="558.0" r="4"/>
<circle cx="1223.9" cy="504.9" r="4"/>
<circle cx="1596.1" cy="255.6" r="4"/>
<circle cx="1131.1" cy="573.5" r="4"/>
<circle cx="1365.8" cy="360.0" r="4"/>
<circle cx="1445.3" cy="343.0" r="4"/>
<circle cx="1464.6" cy="353.4" r="4"/>
<circle cx="1324.0" cy="474.0" r="4"/>
<circle cx="1416.0" cy="431.3" r="4"/>
<circle cx="1266.0" cy="453.7" r="4"/>
<circle cx="1288.5" cy="475.7" r="4"/>
<circle cx="1127.5" cy="586.9" r="4"/>
<circle cx="1455.4" cy="321.8" r="4"/>
<circle cx="1229.5" cy="509.6" r="4"/>
<circle cx="1528.4" cy="282.2" r="4"/>
<circle cx="1310.5" cy="466.4" r="4"/>
<circle cx="1121.0" cy="589.8" r="4"/>
<circle cx="1137.3" cy="617.7" r="4"/>
<circle cx="1124.6" cy="617.4" r="4"/>
<circle cx="1464.3" cy="403.1" r="4"/>
<circle cx="1428.1" cy="341.6" r="4"/>
<circle cx="1289.7" cy="464.8" r="4"/>
<circle cx="1176.7" cy="625.5" r="4"/>
<circle cx="1137.5" cy="569.0" r="4"/>
<circle cx="1127.4" cy="624.5" r="4"/>
<circle cx="1448.1" cy="335.4" r="4"/>
<circle cx="1479.2" cy="367.2" r="4"/>
<circle cx="1112.1" cy="621.0" r="4"/>
<circle cx="1092.7" cy="642.8" r="4"/>
<circle cx="1296.7" cy="512.7" r="4"/>
<circle cx="1557.0" cy="303.9" r="4"/>
<circle cx="1329.2" cy="466.4" r="4"/>
<circle cx="1189.5" cy="559.5" r="4"/>
<circle cx="1151.4" cy="555.1" r="4"/>
<circle cx="1155.4" cy="597.5" r="4"/>
<circle cx="1215.2" cy="545.1" r="4"/>
<circle cx="1221.3" cy="549.4" r="4"/>
<circle cx="1108.6" cy="636.3" r="4"/>
<circle cx="1357.3" cy="358.2" r="4"/>
<circle cx="1345.5" cy="401.3" r="4"/>
<circle cx="1413.4" cy="379.8" r="4"/>
<circle cx="1182.5" cy="613.6" r="4"/>
<circle cx="1252.7" cy="494.4" r="4"/>
<circle cx="1562.8" cy="290.2" r="4"/>
<circle cx="1464.1" cy="353.5" r="4"/>
<circle cx="1112.0" cy="625.9" r="4"/>
<circle cx="1242.5" cy="507.5" r="4"/>
<circle cx="1485.4" cy="334.5" r="4"/>
<circle cx="1439.6" cy="339.3" r="4"/>
<circle cx="1377.1" cy="367.2" r="4"/>
<circle cx="1154.1" cy="554.5" r="4"/>
<circle cx="1451.7" cy="375.1" r="4"/>
<circle cx="1281.0" cy="450.7" r="4"/>
<circle cx="1140.1" cy="569.6" r="4"/>
<circle cx="1291.8" cy="468.2" r="4"/>
<circle cx="1318.3" cy="413.0" r="4"/>
<circle cx="1131.9" cy="567.4" r="4"/>
<circle cx="1482.8" cy="329.0" r="4"/>
<circle cx="1494.5" cy="342.9" r="4"/>
<circle cx="1224.8" cy="587.2" r="4"/>
<circle cx="1145.2" cy="580.3" r="4"/>
<circle cx="1163.0" cy="581.9" r="4"/>
<circle cx="1198.9" cy="506.7" r="4"/>
<circle cx="1259.6" cy="480.9" r="4"/>
<circle cx="1099.1" cy="635.1" r="4"/>
<circle cx="1562.7" cy="289.6" r="4"/>
<circle cx="1484.4" cy="434.7" r="4"/>
<circle cx="1354.1" cy="411.9" r="4"/>
<circle cx="1163.1" cy="571.2" r="4"/>
<circle cx="1154.3" cy="600.7" r="4"/>
<circle cx="1308.3" cy="441.6" r="4"/>
<circle cx="1305.9" cy="452.9" r="4"/>
<circle cx="1326.7" cy="376.9" r="4"/>
<circle cx="1300.7" cy="522.6" r="4"/>
<circle cx="1111.3" cy="621.4" r="4"/>
<circle cx="1468.1" cy="352.1" r="4"/>
<circle cx="1303.4" cy="490.9" r="4"/>
<circle cx="1407.9" cy="341.6" r="4"/>
<circle cx="1240.8" cy="525.6" r="4"/>
<circle cx="1232.1" cy="490.3" r="4"/>
<circle cx="1252.0" cy="465.2" r="4"/>
<circle cx="1310.9" cy="379.0" r="4"/>
<circle cx="1296.5" cy="514.2" r="4"/>
<circle cx="1573.8" cy="295.9" r="4"/>
<circle cx="1457.7" cy="354.0" r="4"/>
<circle cx="1146.5" cy="578.6" r="4"/>
<circle cx="1423.4" cy="400.4" r="4"/>
<circle cx="1122.9" cy="589.3" r="4"/>
<circle cx="1385.6" cy="370.3" r="4"/>
<circle cx="1299.8" cy="449.4" r="4"/>
<circle cx="1228.7" cy="570.8" r="4"/>
<circle cx="1369.7" cy="420.5" r="4"/>
<circle cx="1124.4" cy="603.0" r="4"/>
<circle cx="1308.2" cy="434.5" r="4"/>
<circle cx="1201.3" cy="562.5" r="4"/>
<circle cx="1092.0" cy="628.3" r="4"/>
<circle cx="1297.7" cy="410.7" r="4"/>
<circle cx="1176.0" cy="546.4" r="4"/>
<circle cx="1420.0" cy="378.9" r="4"/>
<circle cx="1462.4" cy="349.5" r="4"/>
<circle cx="1314.4" cy="483.7" r="4"/>
<circle cx="1355.7" cy="433.9" r="4"/>
<circle cx="1464.9" cy="403.1" r="4"/>
<circle cx="1349.6" cy="465.8" r="4"/>
<circle cx="1108.2" cy="605.9" r="4"/>
<circle cx="1187.4" cy="539.0" r="4"/>
<circle cx="1452.4" cy="368.8" r="4"/>
<circle cx="1235.8" cy="599.9" r="4"/>
<circle cx="1395.4" cy="408.5" r="4"/>
<circle cx="1091.7" cy="636.9" r="4"/>
<circle cx="1131.5" cy="600.5" r="4"/>
<circle cx="1385.9" cy="401.5" r="4"/>
<circle cx="1145.5" cy="593.6" r="4"/>
<circle cx="1404.8" cy="365.2" r="4"/>
<circle cx="1441.2" cy="336.3" r="4"/>
<circle cx="1436.1" cy="369.3" r="4"/>
<circle cx="1093.3" cy="626.7" r="4"/>
<circle cx="1271.2" cy="481.7" r="4"/>
<circle cx="1408.1" cy="348.2" r="4"/>
<circle cx="1326.6" cy="465.9" r="4"/>
<circle cx="1212.6" cy="511.3" r="4"/>
<circle cx="1110.8" cy="632.0" r="4"/>
<circle cx="1241.8" cy="475.9" r="4"/>
<circle cx="1280.7" cy="505.6" r="4"/>
<circle cx="1167.9" cy="549.3" r="4"/>
<circle cx="1181.0" cy="552.8" r="4"/>
<circle cx="1256.4" cy="538.5" r="4"/>
<circle cx="1151.2" cy="604.4" r="4"/>
<circle cx="1387.9" cy="393.2" r="4"/>
<circle cx="1114.6" cy="602.5" r="4"/>
<circle cx="1188.1" cy="561.9" r="4"/>
<circle cx="1319.4" cy="445.9" r="4"/>
<circle cx="1138.8" cy="577.1" r="4"/>
<circle cx="1273.9" cy="540.0" r="4"/>
<circle cx="1356.7" cy="403.0" r="4"/>
<circle cx="1178.0" cy="532.2" r="4"/>
<circle cx="1247.8" cy="542.5" r="4"/>
<circle cx="1474.0" cy="325.8" r="4"/>
<circle cx="1253.4" cy="467.4" r="4"/>
<circle cx="1231.4" cy="484.1" r="4"/>
<circle cx="1125.8" cy="631.9" r="4"/>
<circle cx="1419.9" cy="391.7" r="4"/>
<circle cx="1364.4" cy="401.9" r="4"/>
<circle cx="1233.9" cy="533.6" r="4"/>
<circle cx="1092.7" cy="642.5" r="4"/>
<circle cx="1130.8" cy="621.6" r="4"/>
<circle cx="1249.5" cy="489.2" r="4"/>
<circle cx="1262.2" cy="452.3" r="4"/>
<circle cx="1339.8" cy="447.6" r="4"/>
<circle cx="1564.4" cy="280.7" r="4"/>
<circle cx="1289.0" cy="471.9" r="4"/>
<circle cx="1435.4" cy="360.6" r="4"/>
<circle cx="1099.0" cy="621.9" r="4"/>
<circle cx="1157.7" cy="592.7" r="4"/>
<circle cx="1452.8" cy="368.8" r="4"/>
<circle cx="1301.7" cy="472.4" r="4"/>
<circle cx="1134.8" cy="596.1" r="4"/>
<circle cx="1134.3" cy="622.7" r="4"/>
<circle cx="1226.3" cy="523.4" r="4"/>
<circle cx="1123.1" cy="627.2" r="4"/>
<circle cx="1170.8" cy="564.1" r="4"/>
<circle cx="1280.6" cy="526.9" r="4"/>
<circle cx="1229.7" cy="530.6" r="4"/>
<circle cx="1436.6" cy="336.3" r="4"/>
<circle cx="1401.0" cy="356.6" r="4"/>
<circle cx="1118.9" cy="608.9" r="4"/>
<circle cx="1177.5" cy="531.5" r="4"/>
<circle cx="1431.1" cy="405.7" r="4"/>
<circle cx="1378.6" cy="450.0" r="4"/>
<circle cx="1309.2" cy="498.8" r="4"/>
<circle cx="1108.4" cy="639.3" r="4"/>
<circle cx="1194.4" cy="512.0" r="4"/>
<circle cx="1133.5" cy="572.9" r="4"/>
<circle cx="1140.1" cy="583.0" r="4"/>
<circle cx="1316.0" cy="442.8" r="4"/>
<circle cx="1274.8" cy="443.7" r="4"/>
<circle cx="1404.9" cy="415.5" r="4"/>
<circle cx="1275.4" cy="517.7" r="4"/>
<circle cx="1103.6" cy="615.0" r="4"/>
<circle cx="1307.1" cy="435.8" r="4"/>
<circle cx="1432.3" cy="391.8" r="4"/>
<circle cx="1281.6" cy="455.1" r="4"/>
<circle cx="1236.9" cy="517.4" r="4"/>
<circle cx="1281.8" cy="461.3" r="4"/>
<circle cx="1297.6" cy="457.2" r="4"/>
<circle cx="1209.4" cy="537.2" r="4"/>
<circle cx="1360.0" cy="402.5" r="4"/>
<circle cx="1135.6" cy="549.7" r="4"/>
<circle cx="1177.2" cy="543.6" r="4"/>
<circle cx="1292.3" cy="457.4" r="4"/>
<circle cx="1544.2" cy="266.4" r="4"/>
<circle cx="1189.6" cy="525.1" r="4"/>
<circle cx="1260.1" cy="493.8" r="4"/>
<circle cx="1494.6" cy="319.2" r="4"/>
<circle cx="1304.2" cy="428.3" r="4"/>
<circle cx="1208.1" cy="548.7" r="4"/>
<circle cx="1199.7" cy="524.3" r="4"/>
<circle cx="1109.9" cy="633.3" r="4"/>
<circle cx="1213.3" cy="529.9" r="4"/>
<circle cx="1146.0" cy="578.6" r="4"/>
<circle cx="1118.5" cy="593.7" r="4"/>
<circle cx="1573.4" cy="296.0" r="4"/>
<circle cx="1240.6" cy="473.7" r="4"/>
<circle cx="1390.5" cy="389.9" r="4"/>
<circle cx="1284.4" cy="507.5" r="4"/>
<circle cx="1266.0" cy="524.6" r="4"/>
<circle cx="1311.1" cy="379.3" r="4"/>
<circle cx="1165.2" cy="567.4" r="4"/>
<circle cx="1267.5" cy="604.4" r="4"/>
<circle cx="1284.6" cy="520.1" r="4"/>
<circle cx="1125.0" cy="579.3" r="4"/>
<circle cx="1280.4" cy="502.0" r="4"/>
<circle cx="1177.3" cy="549.1" r="4"/>
<circle cx="1136.4" cy="605.0" r="4"/>
<circle cx="1197.3" cy="530.7" r="4"/>
<circle cx="1226.1" cy="517.2" r="4"/>
<circle cx="1374.7" cy="421.3" r="4"/>
<circle cx="1220.4" cy="512.1" r="4"/>
<circle cx="1172.2" cy="565.7" r="4"/>
<circle cx="1389.4" cy="378.7" r="4"/>
<circle cx="1266.3" cy="457.6" r="4"/>
<circle cx="1216.8" cy="538.3" r="4"/>
<circle cx="1266.3" cy="532.1" r="4"/>
<circle cx="1118.5" cy="592.8" r="4"/>
<circle cx="1105.4" cy="619.0" r="4"/>
<circle cx="1109.2" cy="634.6" r="4"/>
<circle cx="1451.2" cy="369.0" r="4"/>
<circle cx="1596.2" cy="255.3" r="4"/>
<circle cx="1226.1" cy="551.7" r="4"/>
<circle cx="1349.9" cy="465.6" r="4"/>
<circle cx="1297.8" cy="491.3" r="4"/>
<circle cx="1138.0" cy="583.3" r="4"/>
<circle cx="1347.2" cy="405.2" r="4"/>
<circle cx="1275.5" cy="465.8" r="4"/>
<circle cx="1576.9" cy="263.7" r="4"/>
<circle cx="1196.9" cy="536.7" r="4"/>
<circle cx="1285.4" cy="530.5" r="4"/>
<circle cx="1350.7" cy="375.9" r="4"/>
<circle cx="1251.1" cy="464.7" r="4"/>
<circle cx="1192.1" cy="574.5" r="4"/>
<circle cx="1151.2" cy="573.7" r="4"/>
<circle cx="1445.8" cy="319.2" r="4"/>
<circle cx="1165.5" cy="575.5" r="4"/>
<circle cx="1255.0" cy="497.7" r="4"/>
<circle cx="1182.6" cy="542.2" r="4"/>
<circle cx="1266.2" cy="479.8" r="4"/>
<circle cx="1494.5" cy="319.2" r="4"/>
<circle cx="1206.4" cy="526.9" r="4"/>
<circle cx="1270.4" cy="462.7" r="4"/>
<circle cx="1116.3" cy="596.7" r="4"/>
<circle cx="1227.8" cy="490.8" r="4"/>
<circle cx="1257.5" cy="459.8" r="4"/>
<circle cx="1360.9" cy="486.4" r="4"/>
<circle cx="1407.0" cy="408.6" r="4"/>
<circle cx="1107.7" cy="631.3" r="4"/>
<circle cx="1110.4" cy="616.2" r="4"/>
<circle cx="1260.6" cy="503.7" r="4"/>
<circle cx="1135.4" cy="600.4" r="4"/>
<circle cx="1288.6" cy="518.7" r="4"/>
<circle cx="1423.8" cy="346.9" r="4"/>
<circle cx="1156.7" cy="535.0" r="4"/>
<circle cx="1300.8" cy="437.8" r="4"/>
<circle cx="1316.3" cy="462.6" r="4"/>
<circle cx="1296.0" cy="479.1" r="4"/>
<circle cx="1171.7" cy="572.3" r="4"/>
<circle cx="1349.1" cy="370.6" r="4"/>
<circle cx="1375.8" cy="411.2" r="4"/>
<circle cx="1235.8" cy="520.0" r="4"/>
<circle cx="1430.1" cy="365.0" r="4"/>
<circle cx="1488.8" cy="310.7" r="4"/>
<circle cx="1102.6" cy="641.2" r="4"/>
<circle cx="1391.2" cy="404.1" r="4"/>
<circle cx="1290.8" cy="485.3" r="4"/>
<circle cx="1234.8" cy="522.4" r="4"/>
<circle cx="1351.9" cy="428.0" r="4"/>
<circle cx="1235.6" cy="477.2" r="4"/>
<circle cx="1121.8" cy="609.8" r="4"/>
<circle cx="1130.7" cy="585.0" r="4"/>
<circle cx="1505.2" cy="316.5" r="4"/>
<circle cx="1309.2" cy="478.1" r="4"/>
<circle cx="1192.0" cy="574.0" r="4"/>
<circle cx="1188.7" cy="576.8" r="4"/>
<circle cx="1314.4" cy="484.6" r="4"/>
<circle cx="1233.4" cy="526.9" r="4"/>
<circle cx="1374.4" cy="329.2" r="4"/>
<circle cx="1139.9" cy="606.8" r="4"/>
<circle cx="1137.4" cy="577.2" r="4"/>
<circle cx="1274.2" cy="468.7" r="4"/>
<circle cx="1406.9" cy="336.3" r="4"/>
<circle cx="1401.8" cy="417.8" r="4"/>
<circle cx="1312.4" cy="408.9" r="4"/>
<circle cx="1192.3" cy="543.1" r="4"/>
<circle cx="1241.5" cy="517.3" r="4"/>
<circle cx="1230.2" cy="542.0" r="4"/>
<circle cx="1110.5" cy="602.8" r="4"/>
<circle cx="1163.5" cy="575.4" r="4"/>
<circle cx="1101.2" cy="631.8" r="4"/>
<circle cx="1483.4" cy="302.8" r="4"/>
<circle cx="1218.7" cy="545.2" r="4"/>
<circle cx="1243.8" cy="540.2" r="4"/>
<circle cx="1472.2" cy="312.6" r="4"/>
<circle cx="1116.3" cy="633.2" r="4"/>
<circle cx="1209.5" cy="526.3" r="4"/>
<circle cx="1094.0" cy="630.8" r="4"/>
<circle cx="1237.0" cy="542.0" r="4"/>
<circle cx="1475.8" cy="367.2" r="4"/>
<circle cx="1110.7" cy="621.0" r="4"/>
<circle cx="1441.5" cy="447.6" r="4"/>
<circle cx="1152.0" cy="563.7" r="4"/>
<circle cx="1208.3" cy="557.0" r="4"/>
<circle cx="1371.2" cy="422.8" r="4"/>
<circle cx="1227.3" cy="498.1" r="4"/>
<circle cx="1122.0" cy="619.1" r="4"/>
<circle cx="1118.9" cy="616.1" r="4"/>
<circle cx="1146.1" cy="629.4" r="4"/>
<circle cx="1284.5" cy="426.5" r="4"/>
<circle cx="1478.5" cy="338.8" r="4"/>
<circle cx="1301.3" cy="448.7" r="4"/>
<circle cx="1143.1" cy="595.3" r="4"/>
<circle cx="1135.0" cy="605.0" r="4"/>
<circle cx="1245.7" cy="539.9" r="4"/>
<circle cx="1457.5" cy="354.0" r="4"/>
<circle cx="1489.3" cy="349.5" r="4"/>
<circle cx="1402.3" cy="420.7" r="4"/>
<circle cx="1426.2" cy="393.0" r="4"/>
<circle cx="1267.0" cy="519.2" r="4"/>
<circle cx="1217.1" cy="535.8" r="4"/>
<circle cx="1216.3" cy="570.1" r="4"/>
<circle cx="1360.7" cy="429.2" r="4"/>
<circle cx="1120.8" cy="614.4" r="4"/>
<circle cx="1267.3" cy="540.0" r="4"/>
<circle cx="1174.6" cy="577.5" r="4"/>
<circle cx="1399.9" cy="401.4" r="4"/>
<circle cx="1201.4" cy="547.0" r="4"/>
<circle cx="1388.9" cy="368.8" r="4"/>
<circle cx="1131.6" cy="590.2" r="4"/>
<circle cx="1245.9" cy="465.8" r="4"/>
<circle cx="1347.0" cy="448.4" r="4"/>
<circle cx="1138.0" cy="580.9" r="4"/>
<circle cx="1161.4" cy="613.6" r="4"/>
<circle cx="1335.8" cy="458.2" r="4"/>
<circle cx="1273.6" cy="540.2" r="4"/>
<circle cx="1231.4" cy="532.5" r="4"/>
<circle cx="1139.2" cy="621.9" r="4"/>
<circle cx="1135.1" cy="571.5" r="4"/>
<circle cx="1213.8" cy="514.9" r="4"/>
<circle cx="1313.0" cy="446.3" r="4"/>
<circle cx="1461.8" cy="330.8" r="4"/>
<circle cx="1472.0" cy="311.8" r="4"/>
<circle cx="1411.5" cy="382.0" r="4"/>
<circle cx="1281.1" cy="481.9" r="4"/>
<circle cx="1506.5" cy="345.5" r="4"/>
<circle cx="1102.4" cy="632.7" r="4"/>
<circle cx="1312.8" cy="466.5" r="4"/>
<circle cx="1117.0" cy="603.5" r="4"/>
<circle cx="1225.4" cy="528.2" r="4"/>
<circle cx="1316.7" cy="485.0" r="4"/>
<circle cx="1509.1" cy="374.6" r="4"/>
<circle cx="1477.2" cy="326.5" r="4"/>
<circle cx="1245.5" cy="476.6" r="4"/>
<circle cx="1315.5" cy="484.4" r="4"/>
<circle cx="1176.1" cy="534.3" r="4"/>
<circle cx="1199.3" cy="517.7" r="4"/>
<circle cx="1339.6" cy="399.9" r="4"/>
<circle cx="1528.4" cy="316.0" r="4"/>
<circle cx="1408.7" cy="404.9" r="4"/>
<circle cx="1469.4" cy="340.8" r="4"/>
<circle cx="1143.1" cy="590.7" r="4"/>
<circle cx="1086.3" cy="638.5" r="4"/>
<circle cx="1347.0" cy="383.4" r="4"/>
<circle cx="1455.6" cy="321.8" r="4"/>
<circle cx="1180.9" cy="587.1" r="4"/>
<circle cx="1473.6" cy="351.0" r="4"/>
<circle cx="1396.6" cy="496.4" r="4"/>
<circle cx="1447.0" cy="371.4" r="4"/>
<circle cx="1302.4" cy="450.8" r="4"/>
<circle cx="1430.4" cy="366.8" r="4"/>
<circle cx="1189.6" cy="560.4" r="4"/>
<circle cx="1394.0" cy="440.2" r="4"/>
<circle cx="1124.1" cy="626.9" r="4"/>
<circle cx="1218.1" cy="513.3" r="4"/>
<circle cx="1114.8" cy="602.3" r="4"/>
<circle cx="1177.8" cy="546.2" r="4"/>
<circle cx="1396.2" cy="387.6" r="4"/>
<circle cx="1340.6" cy="392.6" r="4"/>
<circle cx="1420.2" cy="405.7" r="4"/>
<circle cx="1221.9" cy="518.9" r="4"/>
<circle cx="1121.6" cy="608.0" r="4"/>
<circle cx="1153.5" cy="557.0" r="4"/>
<circle cx="1131.9" cy="577.2" r="4"/>
<circle cx="1113.9" cy="593.8" r="4"/>
<circle cx="1128.1" cy="621.1" r="4"/>
<circle cx="1248.9" cy="542.1" r="4"/>
<circle cx="1396.3" cy="496.2" r="4"/>
<circle cx="1568.9" cy="400.7" r="4"/>
<circle cx="1083.6" cy="629.9" r="4"/>
<circle cx="1425.9" cy="374.6" r="4"/>
<circle cx="1224.5" cy="496.6" r="4"/>
<circle cx="1333.6" cy="431.8" r="4"/>
<circle cx="1372.2" cy="387.4" r="4"/>
<circle cx="1318.3" cy="529.4" r="4"/>
<circle cx="1269.9" cy="448.5" r="4"/>
<circle cx="1413.2" cy="379.8" r="4"/>
<circle cx="1239.5" cy="520.4" r="4"/>
<circle cx="1124.0" cy="592.2" r="4"/>
<circle cx="1278.7" cy="497.2" r="4"/>
<circle cx="1091.9" cy="636.1" r="4"/>
<circle cx="1371.1" cy="409.0" r="4"/>
<circle cx="1090.7" cy="632.8" r="4"/>
<circle cx="1082.3" cy="646.5" r="4"/>
<circle cx="1109.7" cy="635.0" r="4"/>
<circle cx="1271.9" cy="485.5" r="4"/>
<circle cx="1237.3" cy="498.9" r="4"/>
<circle cx="1378.2" cy="449.7" r="4"/>
<circle cx="1371.8" cy="335.0" r="4"/>
<circle cx="1279.8" cy="440.3" r="4"/>
<circle cx="1295.2" cy="489.3" r="4"/>
<circle cx="1495.8" cy="327.1" r="4"/>
<circle cx="1424.7" cy="374.6" r="4"/>
<circle cx="1197.9" cy="520.9" r="4"/>
<circle cx="1513.6" cy="358.2" r="4"/>
<circle cx="1307.1" cy="486.7" r="4"/>
<circle cx="1192.1" cy="526.3" r="4"/>
<circle cx="1241.9" cy="506.4" r="4"/>
<circle cx="1176.2" cy="583.0" r="4"/>
<circle cx="1390.9" cy="368.5" r="4"/>
<circle cx="1271.9" cy="447.8" r="4"/>
<circle cx="1132.0" cy="584.9" r="4"/>
<circle cx="1299.7" cy="494.7" r="4"/>
<circle cx="1332.8" cy="408.2" r="4"/>
<circle cx="1234.4" cy="512.0" r="4"/>
<circle cx="1286.2" cy="579.8" r="4"/>
<circle cx="1153.6" cy="602.2" r="4"/>
<circle cx="1224.9" cy="501.0" r="4"/>
<circle cx="1383.8" cy="373.7" r="4"/>
<circle cx="1112.7" cy="621.0" r="4"/>
<circle cx="1320.5" cy="473.6" r="4"/>
<circle cx="1270.3" cy="518.5" r="4"/>
<circle cx="1421.9" cy="399.6" r="4"/>
<circle cx="1407.3" cy="407.8" r="4"/>
<circle cx="1513.1" cy="304.6" r="4"/>
<circle cx="1269.5" cy="448.0" r="4"/>
<circle cx="1162.8" cy="597.3" r="4"/>
<circle cx="1256.4" cy="504.7" r="4"/>
<circle cx="1459.6" cy="322.3" r="4"/>
<circle cx="1183.9" cy="596.4" r="4"/>
<circle cx="1281.2" cy="516.5" r="4"/>
<circle cx="1104.1" cy="613.6" r="4"/>
<circle cx="1463.7" cy="356.2" r="4"/>
<circle cx="1247.3" cy="469.1" r="4"/>
<circle cx="1472.2" cy="351.3" r="4"/>
<circle cx="1432.8" cy="354.4" r="4"/>
<circle cx="1140.2" cy="572.1" r="4"/>
<circle cx="1268.9" cy="473.2" r="4"/>
<circle cx="1302.6" cy="490.9" r="4"/>
<circle cx="1425.3" cy="379.8" r="4"/>
<circle cx="1420.6" cy="404.9" r="4"/>
<circle cx="1317.9" cy="529.2" r="4"/>
<circle cx="1134.1" cy="626.6" r="4"/>
<circle cx="1192.5" cy="563.4" r="4"/>
<circle cx="1371.8" cy="386.1" r="4"/>
<circle cx="1408.9" cy="401.9" r="4"/>
<circle cx="1196.1" cy="532.7" r="4"/>
<circle cx="1157.6" cy="577.9" r="4"/>
<circle cx="1409.5" cy="380.1" r="4"/>
<circle cx="1276.0" cy="489.8" r="4"/>
<circle cx="1155.0" cy="560.9" r="4"/>
<circle cx="1424.7" cy="309.1" r="4"/>
<circle cx="1312.2" cy="410.7" r="4"/>
<circle cx="1483.5" cy="302.8" r="4"/>
<circle cx="1218.1" cy="537.4" r="4"/>
<circle cx="1164.7" cy="555.2" r="4"/>
<circle cx="1308.7" cy="498.8" r="4"/>
<circle cx="1221.1" cy="501.9" r="4"/>
<circle cx="1336.7" cy="506.2" r="4"/>
<circle cx="1539.5" cy="300.7" r="4"/>
<circle cx="1116.4" cy="602.9" r="4"/>
<circle cx="1397.2" cy="409.3" r="4"/>
<circle cx="1276.6" cy="512.6" r="4"/>
<circle cx="1200.4" cy="546.0" r="4"/>
<circle cx="1168.5" cy="560.6" r="4"/>
<circle cx="1264.9" cy="454.0" r="4"/>
<circle cx="1553.2" cy="303.9" r="4"/>
<circle cx="1461.5" cy="362.1" r="4"/>
<circle cx="1334.9" cy="452.8" r="4"/>
<circle cx="1146.2" cy="591.7" r="4"/>
<circle cx="1316.1" cy="525.2" r="4"/>
<circle cx="1206.8" cy="514.0" r="4"/>
<circle cx="1365.1" cy="415.8" r="4"/>
<circle cx="1494.1" cy="344.2" r="4"/>
<circle cx="1333.1" cy="419.2" r="4"/>
<circle cx="1401.0" cy="419.4" r="4"/>
<circle cx="1391.6" cy="375.9" r="4"/>
<circle cx="1315.8" cy="510.7" r="4"/>
<circle cx="1147.5" cy="588.6" r="4"/>
<circle cx="1558.5" cy="292.2" r="4"/>
<circle cx="1312.9" cy="478.3" r="4"/>
<circle cx="1410.0" cy="420.7" r="4"/>
<circle cx="1440.2" cy="358.1" r="4"/>
<circle cx="1363.9" cy="412.2" r="4"/>
<circle cx="1131.0" cy="610.7" r="4"/>
<circle cx="1186.5" cy="558.8" r="4"/>
<circle cx="1286.8" cy="579.8" r="4"/>
<circle cx="1137.4" cy="604.1" r="4"/>
<circle cx="1379.0" cy="506.5" r="4"/>
<circle cx="1179.4" cy="521.2" r="4"/>
<circle cx="1576.8" cy="263.5" r="4"/>
<circle cx="1153.2" cy="583.4" r="4"/>
<circle cx="1355.1" cy="428.4" r="4"/>
<circle cx="1110.9" cy="635.6" r="4"/>
<circle cx="1328.6" cy="407.9" r="4"/>
<circle cx="1154.0" cy="628.1" r="4"/>
<circle cx="1248.8" cy="524.7" r="4"/>
<circle cx="1252.8" cy="545.3" r="4"/>
<circle cx="1203.7" cy="561.9" r="4"/>
<circle cx="1141.7" cy="575.1" r="4"/>
<circle cx="1410.0" cy="386.4" r="4"/>
<circle cx="1517.8" cy="323.9" r="4"/>
<circle cx="1237.8" cy="488.7" r="4"/>
<circle cx="1279.5" cy="447.6" r="4"/>
<circle cx="1459.7" cy="342.9" r="4"/>
<circle cx="1277.7" cy="459.2" r="4"/>
<circle cx="1438.4" cy="356.1" r="4"/>
<circle cx="1158.1" cy="551.8" r="4"/>
<circle cx="1274.7" cy="456.7" r="4"/>
<circle cx="1572.8" cy="256.9" r="4"/>
<circle cx="1311.4" cy="488.7" r="4"/>
<circle cx="1243.1" cy="502.8" r="4"/>
<circle cx="1360.1" cy="386.6" r="4"/>
<circle cx="1400.6" cy="388.2" r="4"/>
<circle cx="1247.6" cy="542.7" r="4"/>
<circle cx="1295.6" cy="435.7" r="4"/>
<circle cx="1569.0" cy="400.4" r="4"/>
<circle cx="1125.6" cy="594.4" r="4"/>
<circle cx="1229.0" cy="550.8" r="4"/>
<circle cx="1518.9" cy="311.2" r="4"/>
<circle cx="1121.5" cy="613.6" r="4"/>
<circle cx="1569.0" cy="348.7" r="4"/>
<circle cx="1308.1" cy="488.7" r="4"/>
<circle cx="1332.0" cy="476.1" r="4"/>
<circle cx="1466.2" cy="341.8" r="4"/>
<circle cx="1174.1" cy="590.8" r="4"/>
<circle cx="1132.7" cy="622.0" r="4"/>
<circle cx="1287.3" cy="389.1" r="4"/>
<circle cx="1464.4" cy="402.8" r="4"/>
<circle cx="1379.6" cy="388.9" r="4"/>
<circle cx="1269.6" cy="532.6" r="4"/>
<circle cx="1167.1" cy="556.3" r="4"/>
<circle cx="1157.7" cy="553.2" r="4"/>
<circle cx="1096.7" cy="637.4" r="4"/>
<circle cx="1100.9" cy="633.3" r="4"/>
<circle cx="1241.1" cy="506.2" r="4"/>
<circle cx="1333.6" cy="453.2" r="4"/>
<circle cx="1121.4" cy="627.5" r="4"/>
<circle cx="1211.5" cy="526.0" r="4"/>
<circle cx="1402.3" cy="427.9" r="4"/>
<circle cx="1322.0" cy="405.4" r="4"/>
<circle cx="1099.5" cy="620.2" r="4"/>
<circle cx="1266.7" cy="498.6" r="4"/>
<circle cx="1122.8" cy="634.0" r="4"/>
<circle cx="1244.3" cy="513.9" r="4"/>
<circle cx="1178.1" cy="539.8" r="4"/>
<circle cx="1173.3" cy="618.9" r="4"/>
<circle cx="1116.9" cy="637.4" r="4"/>
<circle cx="1294.3" cy="441.0" r="4"/>
<circle cx="1478.3" cy="366.6" r="4"/>
<circle cx="1148.6" cy="582.8" r="4"/>
<circle cx="1189.7" cy="550.8" r="4"/>
<circle cx="1097.3" cy="638.5" r="4"/>
<circle cx="1394.7" cy="365.3" r="4"/>
<circle cx="1172.3" cy="569.4" r="4"/>
<circle cx="1169.9" cy="523.9" r="4"/>
<circle cx="1234.3" cy="518.0" r="4"/>
<circle cx="1331.9" cy="439.4" r="4"/>
<circle cx="1349.3" cy="386.6" r="4"/>
<circle cx="1385.2" cy="420.3" r="4"/>
<circle cx="1484.1" cy="434.7" r="4"/>
<circle cx="1169.3" cy="608.3" r="4"/>
<circle cx="1106.1" cy="613.7" r="4"/>
<circle cx="1541.6" cy="273.0" r="4"/>
<circle cx="1095.8" cy="622.7" r="4"/>
<circle cx="1464.9" cy="351.0" r="4"/>
<circle cx="1336.6" cy="449.7" r="4"/>
<circle cx="1264.9" cy="464.6" r="4"/>
<circle cx="1266.5" cy="476.9" r="4"/>
<circle cx="1091.2" cy="644.9" r="4"/>
<circle cx="1299.0" cy="414.6" r="4"/>
<circle cx="1164.5" cy="554.9" r="4"/>
<circle cx="1210.4" cy="548.6" r="4"/>
<circle cx="1548.7" cy="282.7" r="4"/>
<circle cx="1454.6" cy="355.6" r="4"/>
<circle cx="1402.7" cy="427.8" r="4"/>
<circle cx="1437.3" cy="376.8" r="4"/>
<circle cx="1133.2" cy="583.1" r="4"/>
<circle cx="1413.4" cy="392.1" r="4"/>
<circle cx="1258.3" cy="488.2" r="4"/>
<circle cx="1181.4" cy="542.4" r="4"/>
<circle cx="1188.7" cy="525.9" r="4"/>
<circle cx="1208.8" cy="538.1" r="4"/>
<circle cx="1401.5" cy="386.1" r="4"/>
<circle cx="1121.8" cy="594.5" r="4"/>
<circle cx="1300.2" cy="468.2" r="4"/>
<circle cx="1410.6" cy="420.7" r="4"/>
<circle cx="1408.2" cy="390.1" r="4"/>
<circle cx="1236.7" cy="500.3" r="4"/>
<circle cx="1156.5" cy="603.3" r="4"/>
<circle cx="1082.0" cy="637.8" r="4"/>
<circle cx="1262.2" cy="528.0" r="4"/>
<circle cx="1323.9" cy="438.4" r="4"/>
<circle cx="1321.0" cy="461.8" r="4"/>
<circle cx="1306.7" cy="418.5" r="4"/>
<circle cx="1573.3" cy="257.2" r="4"/>
<circle cx="1259.7" cy="535.1" r="4"/>
<circle cx="1250.6" cy="475.1" r="4"/>
<circle cx="1189.3" cy="543.1" r="4"/>
<circle cx="1172.2" cy="589.8" r="4"/>
<circle cx="1435.9" cy="368.8" r="4"/>
<circle cx="1304.0" cy="403.1" r="4"/>
<circle cx="1441.7" cy="368.8" r="4"/>
<circle cx="1155.8" cy="576.4" r="4"/>
<circle cx="1431.7" cy="405.4" r="4"/>
<circle cx="1213.6" cy="507.5" r="4"/>
<circle cx="1210.7" cy="546.4" r="4"/>
<circle cx="1262.1" cy="430.5" r="4"/>
<circle cx="1194.6" cy="571.3" r="4"/>
<circle cx="1448.7" cy="346.5" r="4"/>
<circle cx="1102.0" cy="621.4" r="4"/>
<circle cx="1175.5" cy="583.0" r="4"/>
<circle cx="1135.4" cy="599.5" r="4"/>
<circle cx="1227.7" cy="512.2" r="4"/>
<circle cx="1343.0" cy="436.1" r="4"/>
<circle cx="1436.4" cy="335.5" r="4"/>
<circle cx="1372.4" cy="396.4" r="4"/>
<circle cx="1306.5" cy="489.1" r="4"/>
<circle cx="1358.3" cy="397.9" r="4"/>
<circle cx="1171.1" cy="555.5" r="4"/>
<circle cx="1312.4" cy="488.4" r="4"/>
<circle cx="1256.6" cy="533.1" r="4"/>
<circle cx="1242.8" cy="518.6" r="4"/>
<circle cx="1455.6" cy="435.8" r="4"/>
<circle cx="1382.6" cy="495.6" r="4"/>
<circle cx="1141.2" cy="566.0" r="4"/>
<circle cx="1201.5" cy="524.4" r="4"/>
<circle cx="1427.4" cy="350.9" r="4"/>
<circle cx="1250.8" cy="475.2" r="4"/>
<circle cx="1362.5" cy="334.5" r="4"/>
<circle cx="1466.6" cy="343.9" r="4"/>
<circle cx="1141.1" cy="610.9" r="4"/>
<circle cx="1139.7" cy="568.7" r="4"/>
<circle cx="1120.6" cy="631.9" r="4"/>
<circle cx="1105.2" cy="638.2" r="4"/>
<circle cx="1475.6" cy="330.7" r="4"/>
<circle cx="1290.1" cy="503.3" r="4"/>
<circle cx="1415.8" cy="431.3" r="4"/>
<circle cx="1289.1" cy="445.1" r="4"/>
<circle cx="1262.6" cy="451.8" r="4"/>
<circle cx="1316.1" cy="494.9" r="4"/>
<circle cx="1399.4" cy="387.2" r="4"/>
<circle cx="1153.8" cy="576.8" r="4"/>
<circle cx="1220.2" cy="527.9" r="4"/>
<circle cx="1244.1" cy="535.0" r="4"/>
<circle cx="1097.6" cy="619.5" r="4"/>
<circle cx="1292.3" cy="477.8" r="4"/>
<circle cx="1557.0" cy="277.5" r="4"/>
<circle cx="1098.3" cy="618.5" r="4"/>
<circle cx="1217.6" cy="508.9" r="4"/>
<circle cx="1142.4" cy="575.7" r="4"/>
<circle cx="1247.5" cy="529.9" r="4"/>
<circle cx="1365.2" cy="369.3" r="4"/>
<circle cx="1170.9" cy="576.8" r="4"/>
<circle cx="1095.1" cy="620.4" r="4"/>
<circle cx="1380.4" cy="375.3" r="4"/>
<circle cx="1257.8" cy="489.7" r="4"/>
<circle cx="1097.0" cy="623.4" r="4"/>
<circle cx="1465.1" cy="353.5" r="4"/>
<circle cx="1437.4" cy="356.0" r="4"/>
<circle cx="1184.7" cy="622.0" r="4"/>
<circle cx="1126.2" cy="586.6" r="4"/>
<circle cx="1162.1" cy="595.1" r="4"/>
<circle cx="1528.9" cy="329.7" r="4"/>
<circle cx="1240.2" cy="533.5" r="4"/>
<circle cx="1212.1" cy="592.0" r="4"/>
<circle cx="1159.4" cy="601.0" r="4"/>
<circle cx="1297.8" cy="491.6" r="4"/>
<circle cx="1315.6" cy="525.5" r="4"/>
<circle cx="1204.2" cy="483.8" r="4"/>
<circle cx="1267.4" cy="497.1" r="4"/>
<circle cx="1089.5" cy="636.9" r="4"/>
<circle cx="1213.2" cy="542.1" r="4"/>
<circle cx="1475.6" cy="334.5" r="4"/>
<circle cx="1358.0" cy="392.9" r="4"/>
<circle cx="1291.4" cy="448.1" r="4"/>
<circle cx="1149.5" cy="609.1" r="4"/>
<circle cx="1195.9" cy="536.6" r="4"/>
<circle cx="1424.5" cy="309.1" r="4"/>
<circle cx="1180.7" cy="569.9" r="4"/>
<circle cx="1546.1" cy="335.5" r="4"/>
<circle cx="1215.7" cy="514.8" r="4"/>
<circle cx="1313.5" cy="398.0" r="4"/>
<circle cx="1175.4" cy="561.8" r="4"/>
<circle cx="1397.0" cy="373.2" r="4"/>
<circle cx="1258.4" cy="458.1" r="4"/>
<circle cx="1266.4" cy="480.8" r="4"/>
<circle cx="1147.9" cy="614.5" r="4"/>
<circle cx="1102.9" cy="620.5" r="4"/>
<circle cx="1373.4" cy="392.1" r="4"/>
<circle cx="1364.0" cy="392.7" r="4"/>
<circle cx="1402.1" cy="389.5" r="4"/>
<circle cx="1315.8" cy="526.5" r="4"/>
<circle cx="1157.5" cy="586.9" r="4"/>
<circle cx="1095.6" cy="639.7" r="4"/>
<circle cx="1136.0" cy="586.3" r="4"/>
<circle cx="1303.9" cy="428.9" r="4"/>
<circle cx="1318.7" cy="441.7" r="4"/>
<circle cx="1262.1" cy="457.2" r="4"/>
<circle cx="1331.9" cy="475.9" r="4"/>
<circle cx="1338.9" cy="391.2" r="4"/>
<circle cx="1267.8" cy="458.7" r="4"/>
<circle cx="1357.8" cy="357.9" r="4"/>
<circle cx="1455.5" cy="436.5" r="4"/>
<circle cx="1342.8" cy="414.0" r="4"/>
<circle cx="1467.7" cy="387.8" r="4"/>
<circle cx="1117.4" cy="606.4" r="4"/>
<circle cx="1365.7" cy="360.1" r="4"/>
<circle cx="1189.0" cy="560.8" r="4"/>
<circle cx="1122.5" cy="615.3" r="4"/>
<circle cx="1102.2" cy="628.3" r="4"/>
<circle cx="1433.2" cy="451.3" r="4"/>
<circle cx="1148.9" cy="559.0" r="4"/>
<circle cx="1343.9" cy="451.2" r="4"/>
<circle cx="1280.5" cy="466.1" r="4"/>
<circle cx="1265.2" cy="502.4" r="4"/>
<circle cx="1155.6" cy="584.6" r="4"/>
<circle cx="1186.2" cy="529.1" r="4"/>
<circle cx="1320.5" cy="413.9" r="4"/>
<circle cx="1303.5" cy="403.3" r="4"/>
<circle cx="1109.5" cy="631.8" r="4"/>
<circle cx="1141.6" cy="550.3" r="4"/>
<circle cx="1307.1" cy="483.0" r="4"/>
<circle cx="1297.1" cy="411.0" r="4"/>
<circle cx="1262.9" cy="484.9" r="4"/>
<circle cx="1362.5" cy="433.5" r="4"/>
<circle cx="1169.9" cy="577.1" r="4"/>
<circle cx="1402.3" cy="390.4" r="4"/>
<circle cx="1153.9" cy="606.2" r="4"/>
<circle cx="1299.4" cy="436.6" r="4"/>
<circle cx="1263.1" cy="522.0" r="4"/>
<circle cx="1230.2" cy="500.7" r="4"/>
<circle cx="1277.0" cy="512.5" r="4"/>
<circle cx="1119.1" cy="595.7" r="4"/>
<circle cx="1304.8" cy="497.1" r="4"/>
<circle cx="1119.1" cy="620.5" r="4"/>
<circle cx="1170.8" cy="572.9" r="4"/>
<circle cx="1155.6" cy="583.7" r="4"/>
<circle cx="1188.9" cy="535.5" r="4"/>
<circle cx="1192.8" cy="567.6" r="4"/>
<circle cx="1409.2" cy="398.1" r="4"/>
<circle cx="1485.2" cy="334.5" r="4"/>
<circle cx="1306.9" cy="454.3" r="4"/>
<circle cx="1330.3" cy="431.8" r="4"/>
<circle cx="1119.5" cy="590.5" r="4"/>
<circle cx="1274.9" cy="530.5" r="4"/>
<circle cx="1427.8" cy="351.6" r="4"/>
<circle cx="1417.6" cy="377.1" r="4"/>
<circle cx="1110.6" cy="612.4" r="4"/>
<circle cx="1273.4" cy="512.2" r="4"/>
<circle cx="1312.8" cy="450.7" r="4"/>
<circle cx="1229.6" cy="496.6" r="4"/>
<circle cx="1364.0" cy="430.9" r="4"/>
<circle cx="1139.4" cy="574.5" r="4"/>
<circle cx="1140.0" cy="573.3" r="4"/>
<circle cx="1107.6" cy="623.0" r="4"/>
<circle cx="1337.2" cy="505.9" r="4"/>
<circle cx="1249.3" cy="483.9" r="4"/>
<circle cx="1112.8" cy="600.9" r="4"/>
<circle cx="1264.2" cy="519.3" r="4"/>
<circle cx="1489.7" cy="349.5" r="4"/>
<circle cx="1142.7" cy="601.2" r="4"/>
<circle cx="1446.5" cy="336.8" r="4"/>
<circle cx="1148.5" cy="559.8" r="4"/>
<circle cx="1145.7" cy="608.2" r="4"/>
<circle cx="1414.5" cy="408.5" r="4"/>
<circle cx="1399.0" cy="417.1" r="4"/>
<circle cx="1460.2" cy="357.4" r="4"/>
<circle cx="1124.0" cy="612.0" r="4"/>
<circle cx="1408.7" cy="348.2" r="4"/>
<circle cx="1317.2" cy="429.5" r="4"/>
<circle cx="1156.6" cy="589.2" r="4"/>
<circle cx="1431.8" cy="388.4" r="4"/>
<circle cx="1241.8" cy="506.6" r="4"/>
<circle cx="1128.0" cy="605.8" r="4"/>
<circle cx="1205.6" cy="565.5" r="4"/>
<circle cx="1119.3" cy="619.9" r="4"/>
<circle cx="1331.7" cy="446.8" r="4"/>
<circle cx="1302.7" cy="462.2" r="4"/>
<circle cx="1402.1" cy="422.1" r="4"/>
<circle cx="1253.3" cy="544.5" r="4"/>
<circle cx="1474.7" cy="325.8" r="4"/>
<circle cx="1328.5" cy="464.4" r="4"/>
<circle cx="1462.3" cy="335.0" r="4"/>
<circle cx="1198.1" cy="522.6" r="4"/>
<circle cx="1434.9" cy="366.9" r="4"/>
<circle cx="1292.9" cy="523.6" r="4"/>
<circle cx="1182.1" cy="555.5" r="4"/>
<circle cx="1312.7" cy="413.1" r="4"/>
<circle cx="1509.1" cy="303.3" r="4"/>
<circle cx="1310.3" cy="416.2" r="4"/>
<circle cx="1335.1" cy="419.5" r="4"/>
<circle cx="1273.0" cy="446.4" r="4"/>
<circle cx="1257.5" cy="526.1" r="4"/>
<circle cx="1103.1" cy="614.0" r="4"/>
<circle cx="1184.8" cy="554.7" r="4"/>
<circle cx="1131.2" cy="610.4" r="4"/>
<circle cx="1455.4" cy="435.8" r="4"/>
<circle cx="1304.9" cy="458.5" r="4"/>
<circle cx="1249.9" cy="539.9" r="4"/>
<circle cx="1378.9" cy="401.3" r="4"/>
<circle cx="1465.4" cy="336.3" r="4"/>
<circle cx="1300.9" cy="497.5" r="4"/>
<circle cx="1374.7" cy="481.4" r="4"/>
<circle cx="1406.2" cy="336.3" r="4"/>
<circle cx="1266.4" cy="540.2" r="4"/>
<circle cx="1308.0" cy="474.9" r="4"/>
<circle cx="1149.5" cy="588.7" r="4"/>
<circle cx="1579.4" cy="280.1" r="4"/>
<circle cx="1480.8" cy="322.5" r="4"/>
<circle cx="1403.4" cy="427.3" r="4"/>
<circle cx="1222.4" cy="514.9" r="4"/>
<circle cx="1446.8" cy="386.9" r="4"/>
<circle cx="1327.0" cy="410.1" r="4"/>
<circle cx="1166.0" cy="562.9" r="4"/>
<circle cx="1170.0" cy="552.9" r="4"/>
<circle cx="1287.3" cy="501.4" r="4"/>
<circle cx="1387.9" cy="411.1" r="4"/>
<circle cx="1212.3" cy="539.5" r="4"/>
<circle cx="1195.8" cy="572.7" r="4"/>
<circle cx="1144.0" cy="615.9" r="4"/>
<circle cx="1141.7" cy="609.9" r="4"/>
<circle cx="1129.0" cy="629.2" r="4"/>
<circle cx="1209.7" cy="515.9" r="4"/>
<circle cx="1182.9" cy="565.9" r="4"/>
<circle cx="1276.1" cy="527.7" r="4"/>
<circle cx="1153.3" cy="602.8" r="4"/>
<circle cx="1296.7" cy="448.0" r="4"/>
<circle cx="1368.5" cy="426.9" r="4"/>
<circle cx="1223.2" cy="549.5" r="4"/>
<circle cx="1226.6" cy="538.1" r="4"/>
<circle cx="1138.1" cy="591.9" r="4"/>
<circle cx="1318.0" cy="448.2" r="4"/>
<circle cx="1132.9" cy="580.0" r="4"/>
<circle cx="1420.7" cy="390.9" r="4"/>
<circle cx="1136.4" cy="630.7" r="4"/>
<circle cx="1448.5" cy="371.9" r="4"/>
<circle cx="1349.3" cy="370.6" r="4"/>
<circle cx="1287.5" cy="434.2" r="4"/>
<circle cx="1423.4" cy="346.1" r="4"/>
<circle cx="1284.5" cy="474.3" r="4"/>
<circle cx="1194.2" cy="520.5" r="4"/>
<circle cx="1219.4" cy="555.9" r="4"/>
<circle cx="1312.9" cy="477.8" r="4"/>
<circle cx="1478.6" cy="303.9" r="4"/>
<circle cx="1468.2" cy="341.6" r="4"/>
<circle cx="1085.4" cy="636.1" r="4"/>
<circle cx="1106.5" cy="625.3" r="4"/>
<circle cx="1261.0" cy="417.3" r="4"/>
<circle cx="1116.1" cy="622.8" r="4"/>
<circle cx="1198.4" cy="549.6" r="4"/>
<circle cx="1126.7" cy="623.4" r="4"/>
<circle cx="1401.0" cy="411.5" r="4"/>
<circle cx="1188.4" cy="561.0" r="4"/>
<circle cx="1254.7" cy="515.0" r="4"/>
<circle cx="1323.2" cy="516.0" r="4"/>
<circle cx="1423.8" cy="337.1" r="4"/>
<circle cx="1489.2" cy="310.7" r="4"/>
<circle cx="1294.5" cy="393.5" r="4"/>
<circle cx="1123.5" cy="608.0" r="4"/>
<circle cx="1477.4" cy="336.5" r="4"/>
<circle cx="1307.2" cy="421.7" r="4"/>
<circle cx="1205.0" cy="568.7" r="4"/>
<circle cx="1252.7" cy="522.0" r="4"/>
<circle cx="1392.1" cy="429.7" r="4"/>
<circle cx="1102.9" cy="639.6" r="4"/>
<circle cx="1504.7" cy="363.5" r="4"/>
<circle cx="1287.0" cy="463.8" r="4"/>
<circle cx="1104.8" cy="631.4" r="4"/>
<circle cx="1284.1" cy="484.3" r="4"/>
<circle cx="1453.7" cy="377.2" r="4"/>
<circle cx="1201.0" cy="599.9" r="4"/>
<circle cx="1174.3" cy="590.1" r="4"/>
<circle cx="1086.3" cy="641.1" r="4"/>
<circle cx="1179.5" cy="567.4" r="4"/>
<circle cx="1155.1" cy="556.4" r="4"/>
<circle cx="1369.6" cy="412.0" r="4"/>
<circle cx="1437.1" cy="344.3" r="4"/>
<circle cx="1532.9" cy="304.6" r="4"/>
<circle cx="1454.2" cy="342.2" r="4"/>
<circle cx="1146.9" cy="542.3" r="4"/>
<circle cx="1452.1" cy="372.9" r="4"/>
<circle cx="1424.9" cy="488.5" r="4"/>
<circle cx="1323.1" cy="412.3" r="4"/>
<circle cx="1277.4" cy="471.5" r="4"/>
<circle cx="1137.0" cy="587.2" r="4"/>
<circle cx="1503.9" cy="325.0" r="4"/>
<circle cx="1266.2" cy="454.6" r="4"/>
<circle cx="1130.9" cy="581.4" r="4"/>
<circle cx="1436.2" cy="368.5" r="4"/>
<circle cx="1415.5" cy="353.5" r="4"/>
<circle cx="1285.8" cy="484.6" r="4"/>
<circle cx="1090.2" cy="625.5" r="4"/>
<circle cx="1538.2" cy="328.4" r="4"/>
<circle cx="1144.0" cy="560.1" r="4"/>
<circle cx="1178.3" cy="534.6" r="4"/>
<circle cx="1157.0" cy="592.0" r="4"/>
<circle cx="1301.1" cy="423.2" r="4"/>
<circle cx="1286.7" cy="519.4" r="4"/>
<circle cx="1133.8" cy="616.3" r="4"/>
<circle cx="1368.8" cy="403.3" r="4"/>
<circle cx="1125.4" cy="589.8" r="4"/>
<circle cx="1099.8" cy="617.2" r="4"/>
<circle cx="1252.9" cy="461.4" r="4"/>
<circle cx="1164.5" cy="596.7" r="4"/>
<circle cx="1375.8" cy="415.5" r="4"/>
<circle cx="1187.4" cy="528.7" r="4"/>
<circle cx="1132.7" cy="584.5" r="4"/>
<circle cx="1262.3" cy="430.5" r="4"/>
<circle cx="1340.0" cy="391.8" r="4"/>
<circle cx="1143.9" cy="618.4" r="4"/>
<circle cx="1108.7" cy="614.5" r="4"/>
<circle cx="1309.2" cy="485.2" r="4"/>
<circle cx="1472.8" cy="351.3" r="4"/>
<circle cx="1103.9" cy="616.6" r="4"/>
<circle cx="1564.5" cy="280.9" r="4"/>
<circle cx="1195.0" cy="545.7" r="4"/>
<circle cx="1102.5" cy="637.6" r="4"/>
<circle cx="1096.1" cy="643.4" r="4"/>
<circle cx="1214.6" cy="513.7" r="4"/>
<circle cx="1467.5" cy="347.3" r="4"/>
<circle cx="1287.6" cy="524.4" r="4"/>
<circle cx="1387.6" cy="389.0" r="4"/>
<circle cx="1254.4" cy="480.2" r="4"/>
<circle cx="1280.8" cy="504.8" r="4"/>
<circle cx="1093.8" cy="628.6" r="4"/>
<circle cx="1411.6" cy="406.4" r="4"/>
<circle cx="1291.5" cy="471.2" r="4"/>
<circle cx="1149.4" cy="578.6" r="4"/>
<circle cx="1175.2" cy="584.1" r="4"/>
<circle cx="1174.5" cy="579.1" r="4"/>
<circle cx="1093.4" cy="639.0" r="4"/>
<circle cx="1292.8" cy="456.0" r="4"/>
<circle cx="1204.2" cy="523.4" r="4"/>
<circle cx="1338.8" cy="421.6" r="4"/>
<circle cx="1335.9" cy="384.3" r="4"/>
<circle cx="1355.9" cy="425.9" r="4"/>
<circle cx="1128.3" cy="593.7" r="4"/>
<circle cx="1477.5" cy="303.3" r="4"/>
<circle cx="1127.5" cy="577.7" r="4"/>
<circle cx="1382.3" cy="377.2" r="4"/>
<circle cx="1134.4" cy="595.3" r="4"/>
<circle cx="1460.3" cy="322.3" r="4"/>
<circle cx="1248.3" cy="532.6" r="4"/>
<circle cx="1348.7" cy="421.4" r="4"/>
<circle cx="1154.6" cy="608.3" r="4"/>
<circle cx="1298.7" cy="422.7" r="4"/>
<circle cx="1137.3" cy="570.6" r="4"/>
<circle cx="1453.7" cy="383.8" r="4"/>
<circle cx="1434.3" cy="346.6" r="4"/>
<circle cx="1277.0" cy="592.0" r="4"/>
<circle cx="1459.9" cy="341.7" r="4"/>
<circle cx="1266.3" cy="476.0" r="4"/>
<circle cx="1246.1" cy="514.7" r="4"/>
<circle cx="1460.0" cy="380.3" r="4"/>
<circle cx="1377.8" cy="376.5" r="4"/>
<circle cx="1446.4" cy="319.7" r="4"/>
<circle cx="1217.6" cy="515.3" r="4"/>
<circle cx="1268.6" cy="476.8" r="4"/>
<circle cx="1546.1" cy="302.0" r="4"/>
<circle cx="1360.5" cy="485.9" r="4"/>
<circle cx="1085.0" cy="644.0" r="4"/>
<circle cx="1163.4" cy="574.9" r="4"/>
<circle cx="1178.1" cy="543.7" r="4"/>
<circle cx="1479.2" cy="344.6" r="4"/>
<circle cx="1316.4" cy="476.6" r="4"/>
<circle cx="1437.9" cy="393.6" r="4"/>
<circle cx="1154.6" cy="595.2" r="4"/>
<circle cx="1111.7" cy="601.1" r="4"/>
<circle cx="1321.5" cy="477.9" r="4"/>
<circle cx="1181.3" cy="568.5" r="4"/>
<circle cx="1195.8" cy="518.3" r="4"/>
<circle cx="1162.2" cy="549.9" r="4"/>
<circle cx="1158.2" cy="546.5" r="4"/>
<circle cx="1204.4" cy="545.1" r="4"/>
<circle cx="1475.5" cy="334.5" r="4"/>
<circle cx="1426.6" cy="333.7" r="4"/>
<circle cx="1410.2" cy="360.1" r="4"/>
<circle cx="1099.1" cy="630.8" r="4"/>
<circle cx="1359.8" cy="435.8" r="4"/>
<circle cx="1431.3" cy="405.7" r="4"/>
<circle cx="1098.9" cy="619.2" r="4"/>
<circle cx="1420.6" cy="340.8" r="4"/>
<circle cx="1185.7" cy="571.4" r="4"/>
<circle cx="1340.7" cy="405.8" r="4"/>
<circle cx="1311.7" cy="479.9" r="4"/>
<circle cx="1289.3" cy="477.8" r="4"/>
<circle cx="1338.5" cy="416.0" r="4"/>
<circle cx="1360.4" cy="378.5" r="4"/>
<circle cx="1313.4" cy="432.0" r="4"/>
<circle cx="1421.0" cy="386.7" r="4"/>
<circle cx="1171.7" cy="564.7" r="4"/>
<circle cx="1101.4" cy="617.9" r="4"/>
<circle cx="1408.5" cy="404.9" r="4"/>
<circle cx="1137.6" cy="620.1" r="4"/>
<circle cx="1164.4" cy="571.8" r="4"/>
<circle cx="1220.7" cy="553.4" r="4"/>
<circle cx="1421.7" cy="405.4" r="4"/>
<circle cx="1217.0" cy="505.8" r="4"/>
<circle cx="1191.8" cy="587.7" r="4"/>
<circle cx="1473.5" cy="354.2" r="4"/>
<circle cx="1120.1" cy="616.3" r="4"/>
<circle cx="1104.9" cy="625.2" r="4"/>
<circle cx="1336.5" cy="400.3" r="4"/>
<circle cx="1305.5" cy="432.7" r="4"/>
<circle cx="1301.2" cy="498.8" r="4"/>
<circle cx="1162.7" cy="579.2" r="4"/>
<circle cx="1146.9" cy="615.5" r="4"/>
<circle cx="1393.7" cy="381.7" r="4"/>
<circle cx="1284.7" cy="426.0" r="4"/>
<circle cx="1127.5" cy="591.1" r="4"/>
<circle cx="1436.6" cy="360.1" r="4"/>
<circle cx="1392.8" cy="403.8" r="4"/>
<circle cx="1399.6" cy="395.1" r="4"/>
<circle cx="1146.2" cy="591.8" r="4"/>
<circle cx="1536.3" cy="370.6" r="4"/>
<circle cx="1426.6" cy="379.3" r="4"/>
<circle cx="1331.4" cy="450.1" r="4"/>
<circle cx="1095.8" cy="622.6" r="4"/>
<circle cx="1283.8" cy="512.1" r="4"/>
<circle cx="1320.2" cy="473.4" r="4"/>
<circle cx="1300.7" cy="485.6" r="4"/>
<circle cx="1140.1" cy="615.5" r="4"/>
<circle cx="1301.1" cy="469.7" r="4"/>
<circle cx="1130.9" cy="591.4" r="4"/>
<circle cx="1289.4" cy="520.8" r="4"/>
<circle cx="1139.4" cy="580.4" r="4"/>
<circle cx="1337.5" cy="464.2" r="4"/>
<circle cx="1230.2" cy="532.2" r="4"/>
<circle cx="1375.1" cy="387.6" r="4"/>
<circle cx="1261.0" cy="468.1" r="4"/>
<circle cx="1351.0" cy="479.3" r="4"/>
<circle cx="1406.2" cy="365.3" r="4"/>
<circle cx="1255.9" cy="563.5" r="4"/>
<circle cx="1252.6" cy="533.1" r="4"/>
<circle cx="1414.6" cy="397.0" r="4"/>
<circle cx="1182.4" cy="553.8" r="4"/>
<circle cx="1326.9" cy="377.2" r="4"/>
<circle cx="1267.8" cy="519.6" r="4"/>
<circle cx="1248.1" cy="457.7" r="4"/>
<circle cx="1149.6" cy="597.6" r="4"/>
<circle cx="1113.7" cy="635.8" r="4"/>
<circle cx="1523.1" cy="302.8" r="4"/>
<circle cx="1118.9" cy="621.5" r="4"/>
<circle cx="1424.9" cy="377.7" r="4"/>
<circle cx="1140.6" cy="572.2" r="4"/>
<circle cx="1322.4" cy="403.6" r="4"/>
<circle cx="1385.0" cy="382.0" r="4"/>
<circle cx="1273.9" cy="456.5" r="4"/>
<circle cx="1128.8" cy="610.9" r="4"/>
<circle cx="1420.6" cy="390.9" r="4"/>
<circle cx="1149.9" cy="613.1" r="4"/>
<circle cx="1088.4" cy="635.9" r="4"/>
<circle cx="1304.2" cy="436.1" r="4"/>
<circle cx="1285.4" cy="530.5" r="4"/>
<circle cx="1336.2" cy="383.8" r="4"/>
<circle cx="1294.7" cy="489.1" r="4"/>
<circle cx="1241.7" cy="533.5" r="4"/>
<circle cx="1245.2" cy="501.4" r="4"/>
<circle cx="1282.9" cy="507.9" r="4"/>
<circle cx="1163.0" cy="595.1" r="4"/>
<circle cx="1544.8" cy="275.6" r="4"/>
<circle cx="1305.6" cy="475.9" r="4"/>
<circle cx="1146.9" cy="560.9" r="4"/>
<circle cx="1379.0" cy="379.7" r="4"/>
<circle cx="1323.2" cy="540.2" r="4"/>
<circle cx="1113.8" cy="609.1" r="4"/>
<circle cx="1366.1" cy="382.9" r="4"/>
<circle cx="1186.2" cy="563.2" r="4"/>
<circle cx="1092.7" cy="629.6" r="4"/>
<circle cx="1352.4" cy="436.4" r="4"/>
<circle cx="1229.8" cy="521.4" r="4"/>
<circle cx="1313.7" cy="397.8" r="4"/>
<circle cx="1358.0" cy="384.1" r="4"/>
<circle cx="1344.5" cy="433.4" r="4"/>
<circle cx="1367.1" cy="433.0" r="4"/>
<circle cx="1457.6" cy="360.3" r="4"/>
<circle cx="1326.1" cy="409.1" r="4"/>
<circle cx="1163.6" cy="575.1" r="4"/>
<circle cx="1097.7" cy="634.0" r="4"/>
<circle cx="1404.6" cy="365.4" r="4"/>
<circle cx="1089.2" cy="635.6" r="4"/>
<circle cx="1296.2" cy="491.9" r="4"/>
<circle cx="1250.9" cy="525.3" r="4"/>
<circle cx="1225.7" cy="533.7" r="4"/>
<circle cx="1192.4" cy="557.0" r="4"/>
<circle cx="1281.1" cy="447.8" r="4"/>
<circle cx="1175.8" cy="554.0" r="4"/>
<circle cx="1331.5" cy="414.4" r="4"/>
<circle cx="1139.9" cy="563.9" r="4"/>
<circle cx="1368.3" cy="375.9" r="4"/>
<circle cx="1186.5" cy="546.2" r="4"/>
<circle cx="1151.8" cy="576.9" r="4"/>
<circle cx="1439.7" cy="348.2" r="4"/>
<circle cx="1163.3" cy="576.6" r="4"/>
<circle cx="1222.5" cy="547.7" r="4"/>
<circle cx="1417.7" cy="387.7" r="4"/>
<circle cx="1167.3" cy="563.3" r="4"/>
<circle cx="1330.6" cy="453.3" r="4"/>
<circle cx="1460.3" cy="379.8" r="4"/>
<circle cx="1387.3" cy="368.0" r="4"/>
<circle cx="1275.8" cy="466.6" r="4"/>
<circle cx="1446.8" cy="456.1" r="4"/>
<circle cx="1433.6" cy="383.2" r="4"/>
<circle cx="1169.6" cy="580.4" r="4"/>
<circle cx="1309.4" cy="438.7" r="4"/>
<circle cx="1349.0" cy="382.2" r="4"/>
<circle cx="1222.6" cy="465.3" r="4"/>
<circle cx="1399.2" cy="380.2" r="4"/>
<circle cx="1437.7" cy="393.0" r="4"/>
<circle cx="1253.4" cy="513.8" r="4"/>
<circle cx="1110.5" cy="611.9" r="4"/>
<circle cx="1371.6" cy="448.9" r="4"/>
<circle cx="1284.7" cy="479.0" r="4"/>
<circle cx="1298.0" cy="434.6" r="4"/>
<circle cx="1164.5" cy="544.8" r="4"/>
<circle cx="1090.8" cy="634.3" r="4"/>
<circle cx="1287.5" cy="483.0" r="4"/>
<circle cx="1409.3" cy="369.0" r="4"/>
<circle cx="1565.9" cy="272.2" r="4"/>
<circle cx="1260.7" cy="454.9" r="4"/>
<circle cx="1447.2" cy="455.8" r="4"/>
<circle cx="1150.6" cy="589.6" r="4"/>
<circle cx="1447.0" cy="386.4" r="4"/>
<circle cx="1456.6" cy="361.8" r="4"/>
<circle cx="1240.5" cy="479.8" r="4"/>
<circle cx="1317.5" cy="510.4" r="4"/>
<circle cx="1500.4" cy="355.6" r="4"/>
<circle cx="1099.4" cy="635.5" r="4"/>
<circle cx="1216.4" cy="542.8" r="4"/>
<circle cx="1138.3" cy="588.2" r="4"/>
<circle cx="1157.4" cy="595.2" r="4"/>
<circle cx="1139.6" cy="578.3" r="4"/>
<circle cx="1359.0" cy="445.6" r="4"/>
<circle cx="1214.3" cy="537.5" r="4"/>
<circle cx="1263.7" cy="457.7" r="4"/>
<circle cx="1317.1" cy="510.7" r="4"/>
<circle cx="1497.3" cy="325.8" r="4"/>
<circle cx="1136.7" cy="581.8" r="4"/>
<circle cx="1452.8" cy="383.8" r="4"/>
<circle cx="1238.6" cy="515.4" r="4"/>
<circle cx="1240.0" cy="508.0" r="4"/>
<circle cx="1210.4" cy="530.2" r="4"/>
<circle cx="1284.8" cy="513.9" r="4"/>
<circle cx="1139.4" cy="619.0" r="4"/>
<circle cx="1242.7" cy="500.0" r="4"/>
<circle cx="1440.2" cy="397.0" r="4"/>
<circle cx="1185.8" cy="527.0" r="4"/>
<circle cx="1373.1" cy="370.6" r="4"/>
<circle cx="1568.9" cy="349.3" r="4"/>
<circle cx="1101.1" cy="617.1" r="4"/>
<circle cx="1410.0" cy="357.4" r="4"/>
<circle cx="1408.9" cy="340.8" r="4"/>
<circle cx="1554.8" cy="276.9" r="4"/>
<circle cx="1232.7" cy="576.6" r="4"/>
<circle cx="1239.7" cy="530.6" r="4"/>
<circle cx="1253.3" cy="506.9" r="4"/>
<circle cx="1142.6" cy="585.9" r="4"/>
<circle cx="1151.1" cy="593.5" r="4"/>
<circle cx="1142.5" cy="599.1" r="4"/>
<circle cx="1411.9" cy="358.6" r="4"/>
<circle cx="1559.6" cy="292.8" r="4"/>
<circle cx="1402.4" cy="416.1" r="4"/>
<circle cx="1105.8" cy="640.9" r="4"/>
<circle cx="1383.1" cy="495.4" r="4"/>
<circle cx="1289.8" cy="515.3" r="4"/>
<circle cx="1463.0" cy="335.0" r="4"/>
<circle cx="1513.1" cy="291.5" r="4"/>
<circle cx="1318.2" cy="440.3" r="4"/>
<circle cx="1566.2" cy="272.2" r="4"/>
<circle cx="1240.5" cy="498.9" r="4"/>
<circle cx="1092.2" cy="627.0" r="4"/>
<circle cx="1236.6" cy="484.4" r="4"/>
<circle cx="1346.0" cy="421.0" r="4"/>
<circle cx="1287.1" cy="389.1" r="4"/>
<circle cx="1185.8" cy="572.7" r="4"/>
<circle cx="1411.0" cy="385.3" r="4"/>
<circle cx="1447.3" cy="370.9" r="4"/>
<circle cx="1271.0" cy="488.6" r="4"/>
<circle cx="1241.4" cy="518.3" r="4"/>
<circle cx="1237.6" cy="514.2" r="4"/>
<circle cx="1200.9" cy="550.3" r="4"/>
<circle cx="1420.7" cy="340.3" r="4"/>
<circle cx="1130.2" cy="624.1" r="4"/>
<circle cx="1245.9" cy="548.9" r="4"/>
<circle cx="1391.6" cy="429.4" r="4"/>
<circle cx="1158.7" cy="598.3" r="4"/>
<circle cx="1136.9" cy="605.5" r="4"/>
<circle cx="1441.2" cy="397.0" r="4"/>
<circle cx="1219.6" cy="556.3" r="4"/>
<circle cx="1432.8" cy="450.8" r="4"/>
<circle cx="1495.9" cy="337.6" r="4"/>
<circle cx="1501.2" cy="345.0" r="4"/>
<circle cx="1464.8" cy="338.3" r="4"/>
<circle cx="1526.8" cy="334.5" r="4"/>
<circle cx="1239.5" cy="509.8" r="4"/>
<circle cx="1257.7" cy="510.4" r="4"/>
<circle cx="1445.8" cy="356.4" r="4"/>
<circle cx="1379.2" cy="389.5" r="4"/>
<circle cx="1131.6" cy="609.6" r="4"/>
<circle cx="1145.4" cy="600.5" r="4"/>
<circle cx="1400.8" cy="356.6" r="4"/>
<circle cx="1173.1" cy="547.0" r="4"/>
<circle cx="1408.9" cy="404.9" r="4"/>
<circle cx="1299.2" cy="415.5" r="4"/>
<circle cx="1429.8" cy="356.3" r="4"/>
<circle cx="1320.9" cy="442.6" r="4"/>
<circle cx="1162.0" cy="581.1" r="4"/>
<circle cx="1150.8" cy="557.1" r="4"/>
<circle cx="1441.3" cy="397.0" r="4"/>
<circle cx="1105.3" cy="622.3" r="4"/>
<circle cx="1350.5" cy="375.9" r="4"/>
<circle cx="1225.3" cy="472.4" r="4"/>
<circle cx="1401.4" cy="388.5" r="4"/>
<circle cx="1286.5" cy="513.7" r="4"/>
<circle cx="1139.8" cy="618.1" r="4"/>
<circle cx="1310.7" cy="458.9" r="4"/>
<circle cx="1415.8" cy="353.5" r="4"/>
<circle cx="1205.1" cy="554.7" r="4"/>
<circle cx="1248.5" cy="559.5" r="4"/>
<circle cx="1200.7" cy="532.2" r="4"/>
<circle cx="1124.1" cy="629.2" r="4"/>
<circle cx="1416.4" cy="431.3" r="4"/>
<circle cx="1446.6" cy="386.4" r="4"/>
<circle cx="1147.1" cy="568.3" r="4"/>
<circle cx="1167.9" cy="542.7" r="4"/>
<circle cx="1280.2" cy="564.8" r="4"/>
<circle cx="1379.4" cy="505.9" r="4"/>
<circle cx="1272.6" cy="441.8" r="4"/>
<circle cx="1468.1" cy="387.2" r="4"/>
<circle cx="1260.7" cy="492.1" r="4"/>
<circle cx="1244.8" cy="488.7" r="4"/>
<circle cx="1291.1" cy="470.4" r="4"/>
<circle cx="1273.0" cy="531.3" r="4"/>
<circle cx="1242.9" cy="485.3" r="4"/>
<circle cx="1104.6" cy="626.1" r="4"/>
<circle cx="1267.8" cy="511.4" r="4"/>
<circle cx="1158.3" cy="622.8" r="4"/>
<circle cx="1126.7" cy="609.7" r="4"/>
<circle cx="1437.5" cy="393.5" r="4"/>
<circle cx="1201.9" cy="548.9" r="4"/>
<circle cx="1139.3" cy="590.8" r="4"/>
<circle cx="1373.0" cy="438.1" r="4"/>
<circle cx="1113.3" cy="603.4" r="4"/>
<circle cx="1402.8" cy="358.6" r="4"/>
<circle cx="1142.5" cy="610.8" r="4"/>
<circle cx="1151.6" cy="568.8" r="4"/>
<circle cx="1260.7" cy="417.3" r="4"/>
<circle cx="1301.3" cy="522.6" r="4"/>
<circle cx="1292.8" cy="523.9" r="4"/>
<circle cx="1326.7" cy="429.7" r="4"/>
<circle cx="1176.3" cy="568.5" r="4"/>
<circle cx="1300.9" cy="522.8" r="4"/>
<circle cx="1153.0" cy="607.1" r="4"/>
<circle cx="1174.1" cy="586.8" r="4"/>
<circle cx="1238.2" cy="518.9" r="4"/>
<circle cx="1363.3" cy="372.6" r="4"/>
<circle cx="1422.1" cy="390.8" r="4"/>
<circle cx="1424.8" cy="488.3" r="4"/>
<circle cx="1445.0" cy="315.2" r="4"/>
<circle cx="1263.0" cy="462.0" r="4"/>
<circle cx="1515.7" cy="337.6" r="4"/>
<circle cx="1399.2" cy="360.6" r="4"/>
<circle cx="1322.8" cy="540.0" r="4"/>
<circle cx="1159.3" cy="546.8" r="4"/>
<circle cx="1087.9" cy="633.5" r="4"/>
<circle cx="1377.7" cy="421.5" r="4"/>
<circle cx="1256.6" cy="507.3" r="4"/>
<circle cx="1149.3" cy="587.6" r="4"/>
<circle cx="1275.6" cy="492.6" r="4"/>
<circle cx="1405.3" cy="375.3" r="4"/>
<circle cx="1335.2" cy="511.5" r="4"/>
<circle cx="1119.0" cy="631.1" r="4"/>
<circle cx="1349.1" cy="449.8" r="4"/>
<circle cx="1410.2" cy="421.5" r="4"/>
<circle cx="1305.5" cy="434.5" r="4"/>
<circle cx="1246.1" cy="473.6" r="4"/>
<circle cx="1253.8" cy="467.9" r="4"/>
<circle cx="1108.4" cy="634.8" r="4"/>
<circle cx="1427.2" cy="332.9" r="4"/>
<circle cx="1239.6" cy="474.0" r="4"/>
<circle cx="1150.1" cy="612.4" r="4"/>
<circle cx="1248.0" cy="457.9" r="4"/>
<circle cx="1099.3" cy="615.8" r="4"/>
<circle cx="1198.4" cy="537.2" r="4"/>
<circle cx="1216.2" cy="507.8" r="4"/>
<circle cx="1364.8" cy="416.7" r="4"/>
<circle cx="1453.4" cy="375.1" r="4"/>
<circle cx="1467.9" cy="387.5" r="4"/>
<circle cx="1295.1" cy="492.1" r="4"/>
<circle cx="1113.7" cy="628.9" r="4"/>
<circle cx="1277.0" cy="592.0" r="4"/>
<circle cx="1150.4" cy="591.8" r="4"/>
<circle cx="1340.8" cy="412.8" r="4"/>
<circle cx="1323.5" cy="516.2" r="4"/>
<circle cx="1497.8" cy="333.7" r="4"/>
<circle cx="1294.5" cy="393.0" r="4"/>
</g>
<path d="M1082.5 646.3L1810.5 32.9" stroke="#fff" stroke-width="6" fill="none"/>
<path d="M1082.5 646.3L1810.5 32.9" stroke="#000" stroke-width="1.1" stroke-dasharray="10.6 5.5" stroke-dashoffset="6" fill="none"/>
<text x="1082.5" y="682" text-anchor="middle" class="tk">0</text>
<text x="1228.1" y="682" text-anchor="middle" class="tk">0.2</text>
<text x="1373.7" y="682" text-anchor="middle" class="tk">0.4</text>
<text x="1519.3" y="682" text-anchor="middle" class="tk">0.6</text>
<text x="1664.9" y="682" text-anchor="middle" class="tk">0.8</text>
<text x="1810.5" y="682" text-anchor="middle" class="tk">1</text>
<text x="1073" y="656.2" text-anchor="end" class="tk">0</text>
<text x="1073" y="594.8" text-anchor="end" class="tk">0.1</text>
<text x="1073" y="533.4" text-anchor="end" class="tk">0.2</text>
<text x="1073" y="472.0" text-anchor="end" class="tk">0.3</text>
<text x="1073" y="410.6" text-anchor="end" class="tk">0.4</text>
<text x="1073" y="349.2" text-anchor="end" class="tk">0.5</text>
<text x="1073" y="287.8" text-anchor="end" class="tk">0.6</text>
<text x="1073" y="226.4" text-anchor="end" class="tk">0.7</text>
<text x="1073" y="165.0" text-anchor="end" class="tk">0.8</text>
<text x="1073" y="103.6" text-anchor="end" class="tk">0.9</text>
<text x="1073" y="42.2" text-anchor="end" class="tk">1</text>
<text x="1251.3" y="717.6" class="lb">PV power production calculated</text>
<text x="1347" y="750.8" class="lb">in ECEM [W/Wp]</text>
<text transform="translate(991.8,524.4) rotate(-90)" class="lb">PV power production reported</text>
<text transform="translate(1025.5,468) rotate(-90)" class="lb">by the TSO(s) [W/Wp]</text>
<text x="1327.9" y="19" class="tl1">(b)</text>
<text x="1383" y="21.8" class="tl2">Germany</text>
<rect x="1476.5" y="460.5" width="319" height="163.5" fill="none" stroke="#262626" stroke-width="1"/>
<text x="1486.4" y="487.8" class="lg">Number of samples =1814</text>
<text x="1485.3" y="520.8" class="lg">Bias=0.087 10<tspan dx="1" dy="-10.5" font-size="16.5px">-2</tspan><tspan dx="0.5" dy="10.5"> W/Wp</tspan></text>
<text x="1487.7" y="553.7" class="lg">MAE=2.434 10<tspan dx="1" dy="-10.5" font-size="16.5px">-2</tspan><tspan dx="0.5" dy="10.5"> W/Wp</tspan></text>
<text x="1487.7" y="586" class="lg">RMSE=3.83 10<tspan dx="1" dy="-10.5" font-size="16.5px">-2</tspan><tspan dx="0.5" dy="10.5"> W/Wp</tspan></text>
<text x="1485.5" y="612.3" class="lg"><tspan letter-spacing="-0.2">Correlation=0.975</tspan></text>
</svg></body></html>
